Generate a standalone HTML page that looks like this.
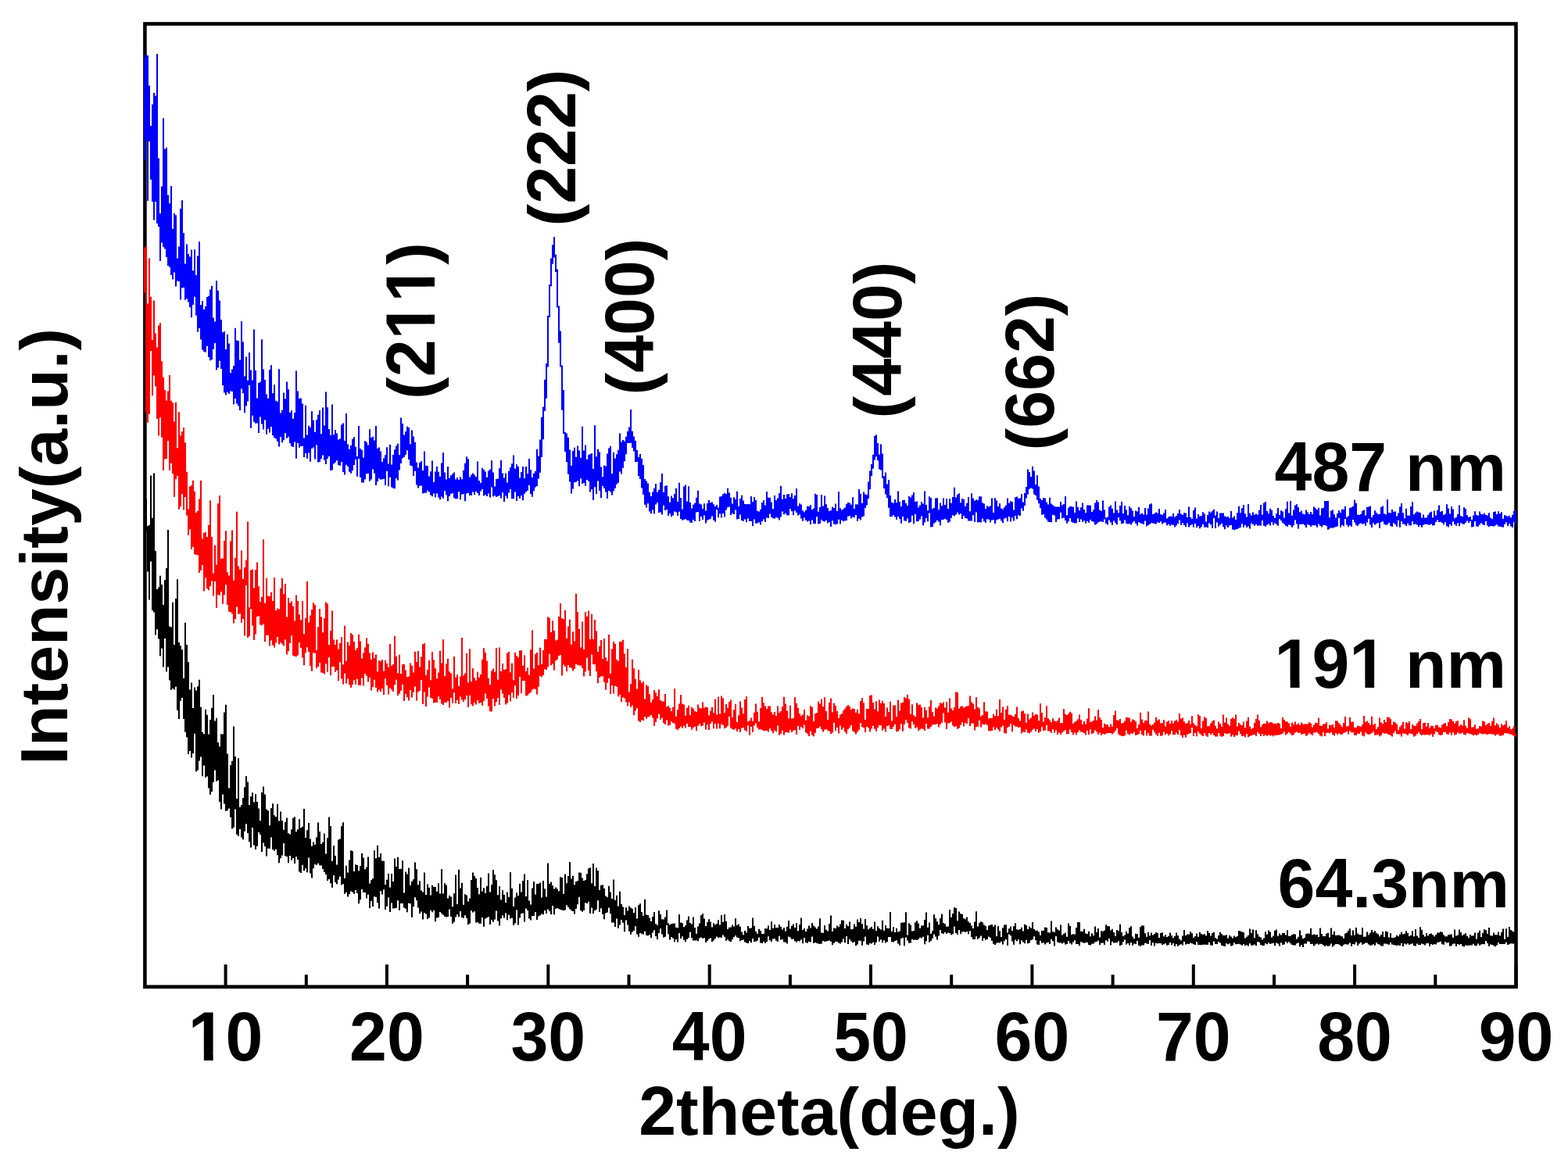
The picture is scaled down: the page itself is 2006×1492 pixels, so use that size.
<!DOCTYPE html>
<html><head><meta charset="utf-8"><title>XRD</title>
<style>html,body{margin:0;padding:0;background:#fff;width:2006px;height:1492px;overflow:hidden}svg{display:block}</style>
</head><body>
<svg xmlns="http://www.w3.org/2000/svg" width="2006" height="1492" viewBox="0 0 2006 1492">
<rect width="2006" height="1492" fill="#fff"/>
<g stroke="#000" stroke-width="4.0" fill="none"><line x1="288.6" y1="1262.7" x2="288.6" y2="1234.2"/><line x1="391.8" y1="1262.7" x2="391.8" y2="1247.2"/><line x1="494.9" y1="1262.7" x2="494.9" y2="1234.2"/><line x1="598.1" y1="1262.7" x2="598.1" y2="1247.2"/><line x1="701.3" y1="1262.7" x2="701.3" y2="1234.2"/><line x1="804.5" y1="1262.7" x2="804.5" y2="1247.2"/><line x1="907.7" y1="1262.7" x2="907.7" y2="1234.2"/><line x1="1010.9" y1="1262.7" x2="1010.9" y2="1247.2"/><line x1="1114.0" y1="1262.7" x2="1114.0" y2="1234.2"/><line x1="1217.2" y1="1262.7" x2="1217.2" y2="1247.2"/><line x1="1320.4" y1="1262.7" x2="1320.4" y2="1234.2"/><line x1="1423.6" y1="1262.7" x2="1423.6" y2="1247.2"/><line x1="1526.8" y1="1262.7" x2="1526.8" y2="1234.2"/><line x1="1630.0" y1="1262.7" x2="1630.0" y2="1247.2"/><line x1="1733.1" y1="1262.7" x2="1733.1" y2="1234.2"/><line x1="1836.3" y1="1262.7" x2="1836.3" y2="1247.2"/><line x1="1939.5" y1="1262.7" x2="1939.5" y2="1234.2"/></g>
<rect x="185.4" y="30.5" width="1754.1" height="1232.2" fill="none" stroke="#000" stroke-width="4.6"/>
<g><path d="M184 655.1h2V666.5h-2zM186 638.0h2V680.1h-2zM188 673.2h2V731.4h-2zM190 671.8h2V767.6h-2zM192 608.6h2V718.4h-2zM194 662.8h2V781.1h-2zM196 605.6h2V783.6h-2zM198 705.0h2V812.5h-2zM200 754.1h2V805.2h-2zM202 751.6h2V817.4h-2zM204 736.8h2V839.4h-2zM206 748.0h2V829.8h-2zM208 773.9h2V853.4h-2zM210 742.3h2V816.9h-2zM212 727.1h2V859.6h-2zM214 678.1h2V853.5h-2zM216 801.4h2V870.6h-2zM218 802.6h2V882.8h-2zM220 770.8h2V881.1h-2zM222 825.0h2V882.6h-2zM224 766.1h2V878.7h-2zM226 741.3h2V908.9h-2zM228 822.1h2V919.9h-2zM230 826.3h2V896.8h-2zM232 831.3h2V893.0h-2zM234 867.8h2V920.1h-2zM236 796.8h2V936.8h-2zM238 824.9h2V943.5h-2zM240 847.3h2V965.0h-2zM242 882.5h2V961.0h-2zM244 873.5h2V969.6h-2zM246 905.9h2V964.1h-2zM248 879.4h2V938.7h-2zM250 883.4h2V987.2h-2zM252 878.3h2V985.6h-2zM254 869.8h2V973.6h-2zM256 904.8h2V968.4h-2zM258 936.7h2V993.3h-2zM260 939.2h2V979.6h-2zM262 907.7h2V995.1h-2zM264 914.8h2V993.5h-2zM266 939.6h2V1008.4h-2zM268 921.1h2V1016.7h-2zM270 905.7h2V1013.1h-2zM272 889.1h2V1001.0h-2zM274 922.5h2V985.5h-2zM276 918.7h2V999.8h-2zM278 949.9h2V998.4h-2zM280 955.3h2V1026.1h-2zM282 939.2h2V1035.4h-2zM284 939.5h2V1016.6h-2zM286 911.4h2V1028.5h-2zM288 901.8h2V1037.7h-2zM290 964.6h2V1037.2h-2zM292 1008.4h2V1034.6h-2zM294 979.1h2V1045.7h-2zM296 973.8h2V1060.4h-2zM298 929.6h2V1058.8h-2zM300 967.9h2V1035.5h-2zM302 1022.1h2V1067.7h-2zM304 970.3h2V1070.1h-2zM306 1032.8h2V1060.9h-2zM308 1029.9h2V1071.6h-2zM310 1020.9h2V1074.2h-2zM312 1007.3h2V1063.7h-2zM314 993.1h2V1054.2h-2zM316 1000.4h2V1066.1h-2zM318 1030.1h2V1077.2h-2zM320 1019.3h2V1084.5h-2zM322 1014.3h2V1058.9h-2zM324 1026.5h2V1081.4h-2zM326 1016.1h2V1086.9h-2zM328 1026.1h2V1082.8h-2zM330 1034.6h2V1065.1h-2zM332 1050.3h2V1068.1h-2zM334 1014.1h2V1089.9h-2zM336 1006.4h2V1078.5h-2zM338 1016.5h2V1083.1h-2zM340 1035.5h2V1095.5h-2zM342 1037.2h2V1085.8h-2zM344 1056.2h2V1085.8h-2zM346 1034.1h2V1071.6h-2zM348 1028.3h2V1087.1h-2zM350 1043.2h2V1088.8h-2zM352 1045.2h2V1086.7h-2zM354 1028.8h2V1094.3h-2zM356 1050.6h2V1104.3h-2zM358 1038.4h2V1098.3h-2zM360 1049.9h2V1094.6h-2zM362 1061.8h2V1079.0h-2zM364 1051.7h2V1095.3h-2zM366 1046.4h2V1096.2h-2zM368 1066.2h2V1104.2h-2zM370 1067.6h2V1095.0h-2zM372 1061.3h2V1101.1h-2zM374 1046.8h2V1098.0h-2zM376 1045.3h2V1104.9h-2zM378 1064.2h2V1096.2h-2zM380 1061.2h2V1099.9h-2zM382 1048.3h2V1115.4h-2zM384 1059.2h2V1116.9h-2zM386 1057.7h2V1106.8h-2zM388 1034.9h2V1114.2h-2zM390 1071.9h2V1111.2h-2zM392 1062.2h2V1116.2h-2zM394 1052.9h2V1097.6h-2zM396 1073.6h2V1117.4h-2zM398 1082.8h2V1123.5h-2zM400 1077.5h2V1111.2h-2zM402 1080.8h2V1106.1h-2zM404 1071.6h2V1107.0h-2zM406 1052.6h2V1104.7h-2zM408 1064.0h2V1107.2h-2zM410 1080.0h2V1107.4h-2zM412 1077.8h2V1111.9h-2zM414 1066.6h2V1116.1h-2zM416 1092.5h2V1118.9h-2zM418 1072.2h2V1127.0h-2zM420 1045.4h2V1124.9h-2zM422 1056.9h2V1130.3h-2zM424 1101.8h2V1135.8h-2zM426 1081.9h2V1120.1h-2zM428 1095.0h2V1129.1h-2zM430 1106.4h2V1131.2h-2zM432 1074.4h2V1125.6h-2zM434 1073.5h2V1121.6h-2zM436 1057.3h2V1132.4h-2zM438 1052.3h2V1131.3h-2zM440 1123.7h2V1143.8h-2zM442 1107.7h2V1141.8h-2zM444 1116.6h2V1147.5h-2zM446 1100.5h2V1144.3h-2zM448 1088.2h2V1140.4h-2zM450 1089.0h2V1141.6h-2zM452 1114.9h2V1143.7h-2zM454 1106.2h2V1138.9h-2zM456 1107.1h2V1143.0h-2zM458 1114.2h2V1156.2h-2zM460 1108.1h2V1151.2h-2zM462 1092.0h2V1138.1h-2zM464 1097.6h2V1141.9h-2zM466 1112.3h2V1141.9h-2zM468 1109.5h2V1149.5h-2zM470 1096.6h2V1144.7h-2zM472 1130.5h2V1162.0h-2zM474 1126.3h2V1152.9h-2zM476 1124.2h2V1160.0h-2zM478 1088.2h2V1147.2h-2zM480 1098.2h2V1147.8h-2zM482 1081.8h2V1155.2h-2zM484 1096.8h2V1162.4h-2zM486 1092.0h2V1140.2h-2zM488 1101.4h2V1144.6h-2zM490 1101.7h2V1138.3h-2zM492 1132.0h2V1163.9h-2zM494 1125.7h2V1159.8h-2zM496 1117.8h2V1148.5h-2zM498 1135.4h2V1166.9h-2zM500 1118.0h2V1155.5h-2zM502 1128.0h2V1162.5h-2zM504 1098.6h2V1162.2h-2zM506 1109.0h2V1161.8h-2zM508 1096.8h2V1152.2h-2zM510 1111.9h2V1164.7h-2zM512 1111.7h2V1156.0h-2zM514 1101.3h2V1155.9h-2zM516 1142.4h2V1161.4h-2zM518 1115.6h2V1162.7h-2zM520 1118.4h2V1167.2h-2zM522 1110.6h2V1155.8h-2zM524 1132.8h2V1156.2h-2zM526 1127.8h2V1173.8h-2zM528 1125.3h2V1159.9h-2zM530 1103.4h2V1148.3h-2zM532 1112.3h2V1152.2h-2zM534 1132.3h2V1161.5h-2zM536 1127.2h2V1169.0h-2zM538 1139.4h2V1166.5h-2zM540 1141.4h2V1176.4h-2zM542 1116.4h2V1167.9h-2zM544 1145.0h2V1169.5h-2zM546 1131.5h2V1175.9h-2zM548 1135.8h2V1174.3h-2zM550 1145.5h2V1164.7h-2zM552 1132.7h2V1167.3h-2zM554 1134.7h2V1165.0h-2zM556 1135.1h2V1179.3h-2zM558 1140.7h2V1174.6h-2zM560 1130.2h2V1173.7h-2zM562 1143.4h2V1166.9h-2zM564 1112.1h2V1169.1h-2zM566 1143.6h2V1170.8h-2zM568 1130.2h2V1172.7h-2zM570 1132.4h2V1173.5h-2zM572 1149.4h2V1173.1h-2zM574 1145.7h2V1163.6h-2zM576 1147.6h2V1173.1h-2zM578 1160.2h2V1182.0h-2zM580 1143.3h2V1179.8h-2zM582 1119.5h2V1173.4h-2zM584 1156.9h2V1170.3h-2zM586 1112.7h2V1173.3h-2zM588 1136.6h2V1165.9h-2zM590 1129.7h2V1174.0h-2zM592 1157.8h2V1174.7h-2zM594 1144.3h2V1171.2h-2zM596 1145.4h2V1174.7h-2zM598 1153.4h2V1183.2h-2zM600 1149.4h2V1181.7h-2zM602 1126.1h2V1165.3h-2zM604 1116.4h2V1167.6h-2zM606 1120.9h2V1166.3h-2zM608 1123.9h2V1180.5h-2zM610 1136.0h2V1179.9h-2zM612 1144.2h2V1181.8h-2zM614 1122.8h2V1181.8h-2zM616 1140.4h2V1174.1h-2zM618 1136.3h2V1185.7h-2zM620 1142.9h2V1175.5h-2zM622 1133.7h2V1174.3h-2zM624 1117.4h2V1172.9h-2zM626 1141.4h2V1182.9h-2zM628 1132.1h2V1177.2h-2zM630 1113.1h2V1179.8h-2zM632 1119.3h2V1176.4h-2zM634 1126.3h2V1165.4h-2zM636 1145.2h2V1178.4h-2zM638 1133.9h2V1184.4h-2zM640 1151.2h2V1175.3h-2zM642 1139.1h2V1171.3h-2zM644 1145.0h2V1174.4h-2zM646 1155.1h2V1168.5h-2zM648 1141.5h2V1177.2h-2zM650 1147.7h2V1170.7h-2zM652 1115.9h2V1175.4h-2zM654 1136.7h2V1174.6h-2zM656 1159.9h2V1184.1h-2zM658 1148.6h2V1181.5h-2zM660 1142.3h2V1164.4h-2zM662 1146.2h2V1183.6h-2zM664 1130.7h2V1174.5h-2zM666 1141.4h2V1169.0h-2zM668 1127.0h2V1168.6h-2zM670 1118.6h2V1179.4h-2zM672 1147.1h2V1162.4h-2zM674 1125.9h2V1165.1h-2zM676 1152.5h2V1175.4h-2zM678 1157.5h2V1177.6h-2zM680 1136.5h2V1172.1h-2zM682 1128.1h2V1172.1h-2zM684 1144.6h2V1166.9h-2zM686 1130.9h2V1177.0h-2zM688 1131.0h2V1172.4h-2zM690 1129.4h2V1171.2h-2zM692 1148.4h2V1169.4h-2zM694 1126.9h2V1170.2h-2zM696 1137.3h2V1164.9h-2zM698 1147.4h2V1169.1h-2zM700 1104.6h2V1163.5h-2zM702 1131.0h2V1165.9h-2zM704 1128.6h2V1170.0h-2zM706 1133.1h2V1159.1h-2zM708 1137.4h2V1170.2h-2zM710 1135.6h2V1162.9h-2zM712 1137.4h2V1161.9h-2zM714 1140.3h2V1163.0h-2zM716 1122.2h2V1163.9h-2zM718 1123.1h2V1164.4h-2zM720 1143.7h2V1165.3h-2zM722 1118.4h2V1164.6h-2zM724 1130.3h2V1158.2h-2zM726 1120.9h2V1160.7h-2zM728 1103.0h2V1163.3h-2zM730 1124.5h2V1165.3h-2zM732 1120.8h2V1165.9h-2zM734 1132.3h2V1169.6h-2zM736 1128.1h2V1162.7h-2zM738 1127.2h2V1157.2h-2zM740 1116.6h2V1147.8h-2zM742 1116.8h2V1165.1h-2zM744 1123.5h2V1166.8h-2zM746 1126.9h2V1165.0h-2zM748 1125.9h2V1155.2h-2zM750 1118.3h2V1156.0h-2zM752 1111.3h2V1153.7h-2zM754 1110.3h2V1168.8h-2zM756 1130.3h2V1161.4h-2zM758 1105.0h2V1169.1h-2zM760 1133.9h2V1165.3h-2zM762 1110.4h2V1163.7h-2zM764 1114.0h2V1152.3h-2zM766 1139.0h2V1167.1h-2zM768 1132.8h2V1162.2h-2zM770 1132.3h2V1169.8h-2zM772 1136.7h2V1176.2h-2zM774 1146.6h2V1168.4h-2zM776 1148.1h2V1167.5h-2zM778 1133.7h2V1161.4h-2zM780 1141.6h2V1169.3h-2zM782 1150.0h2V1180.6h-2zM784 1125.5h2V1180.4h-2zM786 1151.8h2V1186.1h-2zM788 1145.7h2V1175.6h-2zM790 1159.4h2V1187.7h-2zM792 1140.8h2V1183.6h-2zM794 1156.8h2V1176.9h-2zM796 1160.4h2V1180.7h-2zM798 1171.1h2V1192.3h-2zM800 1161.3h2V1177.6h-2zM802 1165.4h2V1183.6h-2zM804 1159.6h2V1191.7h-2zM806 1161.6h2V1195.7h-2zM808 1162.7h2V1192.6h-2zM810 1167.9h2V1190.7h-2zM812 1161.0h2V1185.3h-2zM814 1175.6h2V1195.6h-2zM816 1158.3h2V1198.8h-2zM818 1156.2h2V1193.9h-2zM820 1166.9h2V1194.8h-2zM822 1171.8h2V1195.7h-2zM824 1150.7h2V1191.7h-2zM826 1170.6h2V1196.7h-2zM828 1171.1h2V1197.2h-2zM830 1174.5h2V1195.9h-2zM832 1179.1h2V1199.9h-2zM834 1173.0h2V1193.6h-2zM836 1166.9h2V1190.3h-2zM838 1182.0h2V1197.9h-2zM840 1184.0h2V1202.1h-2zM842 1165.2h2V1194.1h-2zM844 1170.1h2V1188.3h-2zM846 1176.2h2V1195.4h-2zM848 1176.4h2V1199.6h-2zM850 1173.4h2V1198.7h-2zM852 1164.4h2V1183.7h-2zM854 1181.4h2V1195.2h-2zM856 1183.3h2V1202.5h-2zM858 1181.9h2V1199.0h-2zM860 1181.8h2V1200.6h-2zM862 1181.5h2V1205.3h-2zM864 1186.8h2V1202.1h-2zM866 1187.3h2V1205.4h-2zM868 1170.1h2V1194.0h-2zM870 1180.6h2V1200.9h-2zM872 1181.3h2V1198.2h-2zM874 1186.3h2V1202.8h-2zM876 1184.3h2V1205.3h-2zM878 1177.4h2V1201.7h-2zM880 1172.4h2V1199.9h-2zM882 1180.9h2V1192.8h-2zM884 1182.5h2V1200.2h-2zM886 1173.5h2V1203.6h-2zM888 1187.1h2V1203.5h-2zM890 1194.7h2V1203.3h-2zM892 1185.5h2V1204.2h-2zM894 1181.5h2V1200.6h-2zM896 1171.1h2V1199.6h-2zM898 1168.9h2V1200.7h-2zM900 1175.4h2V1200.2h-2zM902 1185.0h2V1205.9h-2zM904 1180.0h2V1204.0h-2zM906 1176.3h2V1201.5h-2zM908 1179.5h2V1200.2h-2zM910 1186.6h2V1205.0h-2zM912 1181.2h2V1203.4h-2zM914 1183.2h2V1201.1h-2zM916 1182.1h2V1198.6h-2zM918 1177.3h2V1200.1h-2zM920 1183.6h2V1199.6h-2zM922 1171.1h2V1199.8h-2zM924 1179.7h2V1196.4h-2zM926 1170.0h2V1198.7h-2zM928 1178.8h2V1203.7h-2zM930 1189.0h2V1202.2h-2zM932 1186.7h2V1204.2h-2zM934 1186.6h2V1205.2h-2zM936 1183.4h2V1202.0h-2zM938 1185.6h2V1199.0h-2zM940 1175.0h2V1197.3h-2zM942 1183.7h2V1199.4h-2zM944 1182.6h2V1200.0h-2zM946 1185.7h2V1204.3h-2zM948 1192.6h2V1203.1h-2zM950 1196.2h2V1202.5h-2zM952 1191.1h2V1205.5h-2zM954 1193.3h2V1206.5h-2zM956 1184.9h2V1207.0h-2zM958 1187.7h2V1204.2h-2zM960 1187.6h2V1206.2h-2zM962 1174.6h2V1201.0h-2zM964 1184.7h2V1205.1h-2zM966 1191.7h2V1204.8h-2zM968 1194.7h2V1203.6h-2zM970 1188.7h2V1199.6h-2zM972 1191.0h2V1206.6h-2zM974 1195.1h2V1207.1h-2zM976 1194.9h2V1204.7h-2zM978 1187.9h2V1206.8h-2zM980 1188.3h2V1205.3h-2zM982 1184.5h2V1198.3h-2zM984 1190.1h2V1203.3h-2zM986 1179.3h2V1205.0h-2zM988 1187.7h2V1201.5h-2zM990 1183.1h2V1200.9h-2zM992 1187.3h2V1203.8h-2zM994 1187.1h2V1205.1h-2zM996 1182.9h2V1197.7h-2zM998 1185.7h2V1202.5h-2zM1000 1189.5h2V1202.0h-2zM1002 1187.3h2V1205.6h-2zM1004 1191.7h2V1205.8h-2zM1006 1185.7h2V1207.5h-2zM1008 1178.0h2V1198.4h-2zM1010 1188.5h2V1199.4h-2zM1012 1184.8h2V1201.8h-2zM1014 1182.6h2V1201.5h-2zM1016 1187.1h2V1204.2h-2zM1018 1181.2h2V1205.8h-2zM1020 1191.2h2V1204.1h-2zM1022 1183.3h2V1204.5h-2zM1024 1174.5h2V1202.3h-2zM1026 1190.1h2V1207.2h-2zM1028 1187.7h2V1200.1h-2zM1030 1191.9h2V1206.1h-2zM1032 1188.6h2V1206.8h-2zM1034 1184.5h2V1204.8h-2zM1036 1187.5h2V1205.5h-2zM1038 1181.0h2V1198.6h-2zM1040 1184.4h2V1207.1h-2zM1042 1186.5h2V1206.1h-2zM1044 1188.5h2V1206.8h-2zM1046 1185.5h2V1207.6h-2zM1048 1175.3h2V1207.9h-2zM1050 1193.4h2V1207.5h-2zM1052 1193.7h2V1204.1h-2zM1054 1183.9h2V1204.9h-2zM1056 1189.7h2V1204.4h-2zM1058 1191.5h2V1203.9h-2zM1060 1181.9h2V1203.6h-2zM1062 1171.5h2V1204.8h-2zM1064 1191.8h2V1209.2h-2zM1066 1187.5h2V1206.7h-2zM1068 1187.9h2V1204.9h-2zM1070 1184.4h2V1204.9h-2zM1072 1186.2h2V1206.4h-2zM1074 1182.5h2V1207.6h-2zM1076 1177.5h2V1205.6h-2zM1078 1177.8h2V1201.3h-2zM1080 1187.9h2V1206.3h-2zM1082 1182.7h2V1197.9h-2zM1084 1185.1h2V1208.1h-2zM1086 1179.6h2V1201.7h-2zM1088 1189.2h2V1204.5h-2zM1090 1188.8h2V1206.3h-2zM1092 1182.5h2V1205.3h-2zM1094 1185.7h2V1210.1h-2zM1096 1176.5h2V1208.5h-2zM1098 1180.1h2V1203.8h-2zM1100 1174.8h2V1203.7h-2zM1102 1182.2h2V1209.7h-2zM1104 1188.5h2V1204.4h-2zM1106 1176.1h2V1198.5h-2zM1108 1184.3h2V1208.6h-2zM1110 1189.3h2V1209.3h-2zM1112 1187.4h2V1206.9h-2zM1114 1185.8h2V1207.4h-2zM1116 1188.8h2V1205.7h-2zM1118 1179.5h2V1209.1h-2zM1120 1191.1h2V1205.8h-2zM1122 1185.3h2V1198.4h-2zM1124 1188.1h2V1204.8h-2zM1126 1189.4h2V1202.2h-2zM1128 1177.8h2V1206.2h-2zM1130 1190.8h2V1203.3h-2zM1132 1183.9h2V1206.4h-2zM1134 1187.8h2V1205.3h-2zM1136 1188.1h2V1198.9h-2zM1138 1166.9h2V1199.1h-2zM1140 1191.8h2V1205.3h-2zM1142 1186.3h2V1205.5h-2zM1144 1193.0h2V1204.1h-2zM1146 1187.8h2V1203.2h-2zM1148 1192.5h2V1207.6h-2zM1150 1191.5h2V1209.7h-2zM1152 1180.8h2V1200.7h-2zM1154 1180.4h2V1200.0h-2zM1156 1180.3h2V1210.3h-2zM1158 1167.3h2V1199.4h-2zM1160 1196.5h2V1203.6h-2zM1162 1181.2h2V1206.8h-2zM1164 1183.4h2V1206.6h-2zM1166 1191.4h2V1201.7h-2zM1168 1191.0h2V1202.8h-2zM1170 1180.2h2V1202.5h-2zM1172 1178.2h2V1203.0h-2zM1174 1181.5h2V1201.8h-2zM1176 1187.8h2V1199.8h-2zM1178 1184.5h2V1200.6h-2zM1180 1184.3h2V1198.8h-2zM1182 1177.1h2V1208.3h-2zM1184 1167.6h2V1204.3h-2zM1186 1186.8h2V1196.7h-2zM1188 1180.5h2V1205.7h-2zM1190 1194.8h2V1204.1h-2zM1192 1191.3h2V1200.8h-2zM1194 1170.3h2V1195.4h-2zM1196 1174.9h2V1198.4h-2zM1198 1179.2h2V1202.5h-2zM1200 1183.3h2V1197.6h-2zM1202 1175.1h2V1189.9h-2zM1204 1169.4h2V1194.2h-2zM1206 1181.0h2V1194.9h-2zM1208 1182.3h2V1193.0h-2zM1210 1185.8h2V1194.9h-2zM1212 1185.5h2V1193.6h-2zM1214 1164.0h2V1194.1h-2zM1216 1173.7h2V1196.3h-2zM1218 1169.1h2V1195.3h-2zM1220 1160.9h2V1185.5h-2zM1222 1162.0h2V1194.1h-2zM1224 1178.3h2V1195.9h-2zM1226 1166.4h2V1190.0h-2zM1228 1169.3h2V1195.3h-2zM1230 1169.7h2V1192.5h-2zM1232 1175.1h2V1192.0h-2zM1234 1176.3h2V1193.0h-2zM1236 1173.4h2V1192.0h-2zM1238 1179.2h2V1195.3h-2zM1240 1181.1h2V1191.3h-2zM1242 1184.6h2V1198.9h-2zM1244 1188.0h2V1201.9h-2zM1246 1179.4h2V1202.0h-2zM1248 1166.3h2V1198.3h-2zM1250 1185.5h2V1201.8h-2zM1252 1180.7h2V1199.9h-2zM1254 1179.2h2V1197.4h-2zM1256 1180.2h2V1204.1h-2zM1258 1183.5h2V1200.6h-2zM1260 1184.7h2V1202.7h-2zM1262 1189.9h2V1201.8h-2zM1264 1184.6h2V1198.6h-2zM1266 1183.5h2V1199.9h-2zM1268 1183.0h2V1203.8h-2zM1270 1185.7h2V1207.7h-2zM1272 1183.6h2V1208.9h-2zM1274 1198.0h2V1207.1h-2zM1276 1184.9h2V1206.1h-2zM1278 1191.3h2V1206.4h-2zM1280 1198.9h2V1204.7h-2zM1282 1187.3h2V1208.4h-2zM1284 1183.6h2V1204.1h-2zM1286 1183.2h2V1202.0h-2zM1288 1193.5h2V1209.7h-2zM1290 1188.3h2V1195.5h-2zM1292 1185.4h2V1197.3h-2zM1294 1191.1h2V1204.6h-2zM1296 1185.3h2V1208.7h-2zM1298 1181.2h2V1202.5h-2zM1300 1189.2h2V1204.3h-2zM1302 1189.7h2V1201.9h-2zM1304 1188.9h2V1208.2h-2zM1306 1186.8h2V1203.2h-2zM1308 1191.5h2V1205.6h-2zM1310 1182.7h2V1207.3h-2zM1312 1183.9h2V1202.7h-2zM1314 1189.1h2V1207.2h-2zM1316 1185.6h2V1206.5h-2zM1318 1187.5h2V1203.0h-2zM1320 1179.9h2V1202.3h-2zM1322 1188.7h2V1198.2h-2zM1324 1190.7h2V1203.0h-2zM1326 1190.7h2V1208.6h-2zM1328 1192.5h2V1209.0h-2zM1330 1196.7h2V1203.7h-2zM1332 1191.0h2V1206.8h-2zM1334 1190.8h2V1206.1h-2zM1336 1186.5h2V1208.5h-2zM1338 1186.9h2V1206.4h-2zM1340 1193.3h2V1205.8h-2zM1342 1193.6h2V1208.0h-2zM1344 1178.4h2V1201.8h-2zM1346 1192.1h2V1204.2h-2zM1348 1193.0h2V1210.5h-2zM1350 1186.5h2V1198.0h-2zM1352 1189.2h2V1205.4h-2zM1354 1190.4h2V1206.5h-2zM1356 1183.4h2V1206.2h-2zM1358 1196.4h2V1207.5h-2zM1360 1194.7h2V1205.9h-2zM1362 1193.5h2V1208.5h-2zM1364 1198.8h2V1207.9h-2zM1366 1181.4h2V1203.9h-2zM1368 1184.8h2V1206.9h-2zM1370 1196.0h2V1208.6h-2zM1372 1195.3h2V1205.5h-2zM1374 1195.7h2V1203.3h-2zM1376 1187.0h2V1208.0h-2zM1378 1180.0h2V1207.9h-2zM1380 1180.1h2V1210.3h-2zM1382 1191.8h2V1205.3h-2zM1384 1191.9h2V1206.1h-2zM1386 1188.8h2V1206.7h-2zM1388 1194.5h2V1206.0h-2zM1390 1195.0h2V1206.1h-2zM1392 1191.8h2V1208.9h-2zM1394 1198.2h2V1209.5h-2zM1396 1194.2h2V1207.8h-2zM1398 1197.2h2V1207.5h-2zM1400 1185.5h2V1205.6h-2zM1402 1192.7h2V1205.1h-2zM1404 1188.1h2V1203.5h-2zM1406 1199.5h2V1209.3h-2zM1408 1191.3h2V1206.7h-2zM1410 1191.8h2V1206.5h-2zM1412 1190.5h2V1208.9h-2zM1414 1183.3h2V1203.2h-2zM1416 1185.1h2V1204.8h-2zM1418 1185.3h2V1200.9h-2zM1420 1190.5h2V1209.4h-2zM1422 1188.7h2V1204.8h-2zM1424 1193.0h2V1206.5h-2zM1426 1197.7h2V1206.2h-2zM1428 1189.9h2V1206.1h-2zM1430 1191.3h2V1204.2h-2zM1432 1182.8h2V1210.0h-2zM1434 1193.0h2V1209.0h-2zM1436 1198.1h2V1205.3h-2zM1438 1196.5h2V1202.6h-2zM1440 1191.8h2V1208.4h-2zM1442 1194.6h2V1207.0h-2zM1444 1187.3h2V1209.6h-2zM1446 1185.3h2V1206.0h-2zM1448 1198.5h2V1209.8h-2zM1450 1201.2h2V1207.4h-2zM1452 1194.8h2V1207.9h-2zM1454 1195.2h2V1204.1h-2zM1456 1199.8h2V1209.7h-2zM1458 1186.2h2V1210.9h-2zM1460 1184.2h2V1209.4h-2zM1462 1184.4h2V1209.4h-2zM1464 1194.3h2V1206.8h-2zM1466 1198.8h2V1207.3h-2zM1468 1192.8h2V1208.1h-2zM1470 1197.3h2V1203.1h-2zM1472 1193.5h2V1210.0h-2zM1474 1196.4h2V1206.2h-2zM1476 1194.9h2V1210.5h-2zM1478 1193.1h2V1206.7h-2zM1480 1194.1h2V1207.2h-2zM1482 1199.9h2V1207.1h-2zM1484 1193.9h2V1206.9h-2zM1486 1193.2h2V1208.9h-2zM1488 1198.2h2V1208.2h-2zM1490 1196.1h2V1207.3h-2zM1492 1199.0h2V1209.8h-2zM1494 1197.8h2V1209.1h-2zM1496 1193.6h2V1205.9h-2zM1498 1197.1h2V1209.2h-2zM1500 1200.2h2V1207.1h-2zM1502 1198.0h2V1210.8h-2zM1504 1193.6h2V1208.0h-2zM1506 1197.1h2V1210.7h-2zM1508 1201.6h2V1209.1h-2zM1510 1203.2h2V1208.3h-2zM1512 1197.5h2V1209.5h-2zM1514 1190.0h2V1204.9h-2zM1516 1197.0h2V1208.4h-2zM1518 1195.5h2V1207.8h-2zM1520 1195.8h2V1208.1h-2zM1522 1192.1h2V1206.5h-2zM1524 1194.3h2V1207.3h-2zM1526 1199.9h2V1208.3h-2zM1528 1197.9h2V1209.1h-2zM1530 1194.5h2V1205.2h-2zM1532 1198.7h2V1209.0h-2zM1534 1192.8h2V1209.0h-2zM1536 1195.2h2V1209.3h-2zM1538 1195.8h2V1208.7h-2zM1540 1195.0h2V1208.7h-2zM1542 1197.2h2V1208.8h-2zM1544 1191.1h2V1209.1h-2zM1546 1193.8h2V1205.7h-2zM1548 1197.6h2V1209.4h-2zM1550 1194.0h2V1209.7h-2zM1552 1192.7h2V1204.4h-2zM1554 1200.2h2V1207.9h-2zM1556 1201.5h2V1207.9h-2zM1558 1197.1h2V1205.1h-2zM1560 1192.8h2V1206.4h-2zM1562 1195.1h2V1209.7h-2zM1564 1197.0h2V1210.6h-2zM1566 1197.0h2V1210.9h-2zM1568 1196.2h2V1206.9h-2zM1570 1200.5h2V1208.3h-2zM1572 1196.8h2V1207.2h-2zM1574 1198.4h2V1210.6h-2zM1576 1200.6h2V1209.8h-2zM1578 1197.4h2V1206.2h-2zM1580 1198.9h2V1208.3h-2zM1582 1197.8h2V1208.1h-2zM1584 1191.0h2V1207.8h-2zM1586 1191.4h2V1208.6h-2zM1588 1192.5h2V1209.7h-2zM1590 1192.9h2V1207.9h-2zM1592 1200.6h2V1210.2h-2zM1594 1198.8h2V1209.3h-2zM1596 1196.8h2V1210.4h-2zM1598 1188.5h2V1207.2h-2zM1600 1194.0h2V1209.7h-2zM1602 1189.6h2V1209.5h-2zM1604 1200.3h2V1208.5h-2zM1606 1190.2h2V1210.1h-2zM1608 1195.3h2V1205.1h-2zM1610 1198.5h2V1205.8h-2zM1612 1199.5h2V1209.0h-2zM1614 1202.6h2V1210.1h-2zM1616 1200.5h2V1210.1h-2zM1618 1192.3h2V1207.1h-2zM1620 1195.8h2V1208.3h-2zM1622 1190.6h2V1206.2h-2zM1624 1192.5h2V1207.9h-2zM1626 1199.4h2V1207.3h-2zM1628 1197.5h2V1206.7h-2zM1630 1190.8h2V1210.0h-2zM1632 1189.4h2V1206.5h-2zM1634 1197.7h2V1207.5h-2zM1636 1194.4h2V1210.5h-2zM1638 1196.5h2V1206.2h-2zM1640 1193.9h2V1209.0h-2zM1642 1193.7h2V1208.5h-2zM1644 1196.5h2V1205.0h-2zM1646 1190.3h2V1207.1h-2zM1648 1197.7h2V1205.2h-2zM1650 1197.7h2V1207.3h-2zM1652 1196.0h2V1208.9h-2zM1654 1195.2h2V1209.6h-2zM1656 1195.4h2V1209.5h-2zM1658 1201.6h2V1207.3h-2zM1660 1198.8h2V1206.6h-2zM1662 1190.4h2V1211.3h-2zM1664 1196.7h2V1209.2h-2zM1666 1200.9h2V1211.9h-2zM1668 1200.0h2V1207.6h-2zM1670 1194.9h2V1207.6h-2zM1672 1194.6h2V1204.4h-2zM1674 1194.8h2V1205.1h-2zM1676 1187.7h2V1208.0h-2zM1678 1196.3h2V1207.8h-2zM1680 1195.5h2V1210.6h-2zM1682 1196.3h2V1208.5h-2zM1684 1195.9h2V1207.6h-2zM1686 1199.0h2V1208.7h-2zM1688 1187.6h2V1207.7h-2zM1690 1195.0h2V1207.9h-2zM1692 1197.9h2V1209.5h-2zM1694 1198.0h2V1210.8h-2zM1696 1194.7h2V1209.8h-2zM1698 1193.7h2V1210.8h-2zM1700 1199.4h2V1210.3h-2zM1702 1187.4h2V1207.4h-2zM1704 1195.9h2V1211.4h-2zM1706 1191.7h2V1209.4h-2zM1708 1197.0h2V1208.0h-2zM1710 1196.7h2V1207.9h-2zM1712 1196.5h2V1208.6h-2zM1714 1197.6h2V1210.1h-2zM1716 1198.3h2V1211.1h-2zM1718 1200.8h2V1209.0h-2zM1720 1194.5h2V1208.1h-2zM1722 1193.4h2V1208.4h-2zM1724 1190.8h2V1208.6h-2zM1726 1188.3h2V1206.6h-2zM1728 1197.0h2V1211.0h-2zM1730 1190.6h2V1208.0h-2zM1732 1196.4h2V1208.4h-2zM1734 1187.1h2V1205.5h-2zM1736 1194.6h2V1209.9h-2zM1738 1195.9h2V1207.6h-2zM1740 1196.2h2V1206.0h-2zM1742 1187.0h2V1208.8h-2zM1744 1198.8h2V1207.8h-2zM1746 1198.4h2V1206.4h-2zM1748 1192.6h2V1206.6h-2zM1750 1196.2h2V1208.5h-2zM1752 1193.4h2V1209.7h-2zM1754 1189.9h2V1209.4h-2zM1756 1193.1h2V1208.2h-2zM1758 1191.2h2V1209.8h-2zM1760 1193.7h2V1206.3h-2zM1762 1195.2h2V1207.9h-2zM1764 1198.3h2V1208.8h-2zM1766 1196.0h2V1210.6h-2zM1768 1192.1h2V1210.5h-2zM1770 1199.0h2V1207.6h-2zM1772 1191.6h2V1207.6h-2zM1774 1192.4h2V1208.2h-2zM1776 1199.4h2V1208.7h-2zM1778 1194.0h2V1206.0h-2zM1780 1200.1h2V1208.4h-2zM1782 1199.9h2V1208.9h-2zM1784 1199.3h2V1209.5h-2zM1786 1196.8h2V1209.9h-2zM1788 1198.3h2V1209.6h-2zM1790 1195.6h2V1209.9h-2zM1792 1192.4h2V1207.1h-2zM1794 1195.6h2V1211.0h-2zM1796 1194.7h2V1207.6h-2zM1798 1191.2h2V1208.5h-2zM1800 1193.7h2V1207.3h-2zM1802 1197.9h2V1209.0h-2zM1804 1196.8h2V1208.1h-2zM1806 1191.3h2V1207.3h-2zM1808 1198.3h2V1210.3h-2zM1810 1188.9h2V1210.5h-2zM1812 1197.5h2V1207.5h-2zM1814 1200.0h2V1208.9h-2zM1816 1186.3h2V1209.0h-2zM1818 1189.7h2V1207.4h-2zM1820 1196.0h2V1208.3h-2zM1822 1198.4h2V1209.4h-2zM1824 1193.9h2V1207.3h-2zM1826 1197.3h2V1206.8h-2zM1828 1195.1h2V1210.8h-2zM1830 1194.4h2V1207.9h-2zM1832 1196.2h2V1208.9h-2zM1834 1198.3h2V1207.9h-2zM1836 1196.3h2V1208.5h-2zM1838 1193.5h2V1206.1h-2zM1840 1193.6h2V1205.4h-2zM1842 1192.2h2V1204.7h-2zM1844 1192.7h2V1208.3h-2zM1846 1196.3h2V1208.7h-2zM1848 1198.3h2V1205.0h-2zM1850 1198.3h2V1206.5h-2zM1852 1196.3h2V1205.9h-2zM1854 1195.7h2V1210.8h-2zM1856 1195.5h2V1210.0h-2zM1858 1199.7h2V1207.7h-2zM1860 1189.5h2V1207.5h-2zM1862 1197.4h2V1210.9h-2zM1864 1196.5h2V1208.0h-2zM1866 1189.4h2V1208.9h-2zM1868 1193.1h2V1208.0h-2zM1870 1196.9h2V1210.5h-2zM1872 1195.4h2V1211.3h-2zM1874 1194.3h2V1209.5h-2zM1876 1197.7h2V1209.9h-2zM1878 1200.0h2V1209.8h-2zM1880 1196.1h2V1209.5h-2zM1882 1197.5h2V1209.5h-2zM1884 1197.3h2V1207.8h-2zM1886 1193.6h2V1210.0h-2zM1888 1201.5h2V1210.2h-2zM1890 1193.4h2V1207.5h-2zM1892 1190.8h2V1209.8h-2zM1894 1199.1h2V1208.4h-2zM1896 1193.8h2V1208.0h-2zM1898 1189.1h2V1208.3h-2zM1900 1190.2h2V1204.0h-2zM1902 1194.8h2V1207.0h-2zM1904 1186.9h2V1210.7h-2zM1906 1197.1h2V1208.6h-2zM1908 1197.5h2V1209.1h-2zM1910 1193.6h2V1210.1h-2zM1912 1196.2h2V1211.2h-2zM1914 1196.2h2V1209.4h-2zM1916 1192.6h2V1206.0h-2zM1918 1197.3h2V1208.0h-2zM1920 1192.8h2V1207.9h-2zM1922 1188.6h2V1207.9h-2zM1924 1201.8h2V1208.1h-2zM1926 1188.2h2V1205.8h-2zM1928 1198.8h2V1209.0h-2zM1930 1186.1h2V1208.3h-2zM1932 1189.9h2V1207.2h-2zM1934 1191.6h2V1207.4h-2zM1936 1192.4h2V1207.5h-2zM1938 1194.4h2V1198.7h-2z" fill="#000"/><path d="M184 316.7h2V374.6h-2zM186 315.0h2V527.9h-2zM188 388.5h2V540.7h-2zM190 330.5h2V529.7h-2zM192 379.7h2V449.0h-2zM194 434.7h2V506.2h-2zM196 384.5h2V480.4h-2zM198 426.6h2V494.2h-2zM200 444.4h2V536.1h-2zM202 416.5h2V557.5h-2zM204 413.3h2V534.2h-2zM206 462.2h2V559.7h-2zM208 482.7h2V601.9h-2zM210 499.1h2V587.6h-2zM212 512.6h2V587.0h-2zM214 500.4h2V564.3h-2zM216 480.1h2V602.0h-2zM218 512.7h2V592.8h-2zM220 515.3h2V606.3h-2zM222 539.6h2V635.8h-2zM224 514.8h2V613.3h-2zM226 573.3h2V609.0h-2zM228 527.2h2V651.8h-2zM230 557.6h2V648.3h-2zM232 552.2h2V632.3h-2zM234 546.9h2V652.4h-2zM236 566.2h2V636.2h-2zM238 603.7h2V659.6h-2zM240 651.6h2V685.1h-2zM242 622.5h2V677.4h-2zM244 621.0h2V703.1h-2zM246 614.8h2V699.8h-2zM248 628.8h2V709.2h-2zM250 655.9h2V710.1h-2zM252 653.7h2V710.3h-2zM254 638.5h2V733.0h-2zM256 614.7h2V730.0h-2zM258 689.5h2V723.1h-2zM260 681.7h2V756.5h-2zM262 680.7h2V739.3h-2zM264 686.9h2V753.3h-2zM266 671.7h2V755.3h-2zM268 640.2h2V749.9h-2zM270 687.1h2V743.6h-2zM272 733.6h2V762.6h-2zM274 697.8h2V744.1h-2zM276 722.4h2V777.7h-2zM278 644.2h2V761.1h-2zM280 633.9h2V762.1h-2zM282 715.1h2V757.3h-2zM284 714.5h2V772.8h-2zM286 692.0h2V761.2h-2zM288 679.2h2V748.3h-2zM290 732.3h2V773.9h-2zM292 736.4h2V782.7h-2zM294 692.6h2V782.9h-2zM296 678.4h2V785.4h-2zM298 742.7h2V797.4h-2zM300 713.7h2V792.3h-2zM302 654.8h2V776.4h-2zM304 724.4h2V786.1h-2zM306 728.5h2V785.3h-2zM308 704.5h2V796.9h-2zM310 740.7h2V792.0h-2zM312 726.0h2V813.6h-2zM314 716.6h2V749.2h-2zM316 667.5h2V816.1h-2zM318 777.3h2V814.1h-2zM320 729.4h2V779.3h-2zM322 728.4h2V800.6h-2zM324 752.3h2V818.9h-2zM326 729.3h2V811.5h-2zM328 719.4h2V789.0h-2zM330 750.2h2V788.3h-2zM332 770.1h2V799.5h-2zM334 763.8h2V800.2h-2zM336 690.3h2V798.4h-2zM338 771.8h2V821.3h-2zM340 739.7h2V812.7h-2zM342 762.5h2V813.1h-2zM344 763.2h2V826.6h-2zM346 757.7h2V819.6h-2zM348 769.1h2V825.6h-2zM350 738.9h2V828.4h-2zM352 780.9h2V822.6h-2zM354 778.5h2V814.9h-2zM356 779.5h2V824.6h-2zM358 752.7h2V822.1h-2zM360 739.8h2V824.2h-2zM362 759.9h2V826.4h-2zM364 746.9h2V818.6h-2zM366 789.6h2V837.4h-2zM368 765.0h2V833.3h-2zM370 771.5h2V823.1h-2zM372 769.3h2V813.2h-2zM374 775.8h2V839.1h-2zM376 794.4h2V839.7h-2zM378 761.4h2V840.3h-2zM380 769.0h2V838.6h-2zM382 786.5h2V822.2h-2zM384 793.4h2V829.2h-2zM386 769.0h2V841.5h-2zM388 811.2h2V851.2h-2zM390 790.7h2V835.5h-2zM392 744.1h2V828.3h-2zM394 796.6h2V833.9h-2zM396 787.4h2V852.3h-2zM398 780.1h2V858.8h-2zM400 770.9h2V835.3h-2zM402 773.8h2V836.0h-2zM404 832.0h2V855.2h-2zM406 802.2h2V853.1h-2zM408 778.9h2V847.9h-2zM410 789.2h2V860.4h-2zM412 809.2h2V861.2h-2zM414 790.9h2V862.5h-2zM416 770.5h2V849.6h-2zM418 772.6h2V859.7h-2zM420 825.3h2V841.3h-2zM422 807.0h2V864.2h-2zM424 781.4h2V853.2h-2zM426 818.6h2V852.9h-2zM428 824.9h2V859.9h-2zM430 818.4h2V857.8h-2zM432 830.5h2V871.3h-2zM434 823.1h2V847.3h-2zM436 814.9h2V868.5h-2zM438 850.2h2V875.5h-2zM440 800.8h2V861.8h-2zM442 845.8h2V874.4h-2zM444 821.6h2V868.4h-2zM446 825.9h2V876.2h-2zM448 810.3h2V879.9h-2zM450 811.9h2V876.3h-2zM452 821.1h2V870.3h-2zM454 832.1h2V876.0h-2zM456 828.9h2V868.7h-2zM458 811.8h2V876.9h-2zM460 820.5h2V876.9h-2zM462 842.6h2V867.6h-2zM464 835.5h2V877.6h-2zM466 828.6h2V862.3h-2zM468 816.2h2V864.8h-2zM470 823.7h2V872.6h-2zM472 835.4h2V867.1h-2zM474 844.0h2V883.4h-2zM476 834.5h2V879.0h-2zM478 842.0h2V869.8h-2zM480 837.6h2V879.9h-2zM482 859.4h2V885.5h-2zM484 845.3h2V882.8h-2zM486 846.2h2V885.3h-2zM488 844.1h2V881.1h-2zM490 858.7h2V888.9h-2zM492 844.8h2V868.5h-2zM494 849.0h2V876.8h-2zM496 853.8h2V888.4h-2zM498 823.9h2V880.4h-2zM500 852.1h2V882.6h-2zM502 849.9h2V884.9h-2zM504 813.7h2V876.3h-2zM506 839.7h2V869.8h-2zM508 861.2h2V889.9h-2zM510 837.8h2V887.4h-2zM512 862.1h2V883.7h-2zM514 850.0h2V875.7h-2zM516 850.0h2V897.0h-2zM518 857.4h2V888.1h-2zM520 866.2h2V892.3h-2zM522 865.6h2V896.4h-2zM524 848.6h2V883.1h-2zM526 851.7h2V892.5h-2zM528 860.6h2V885.8h-2zM530 833.8h2V878.6h-2zM532 847.0h2V896.4h-2zM534 832.9h2V885.6h-2zM536 853.4h2V884.1h-2zM538 840.4h2V869.9h-2zM540 824.3h2V901.0h-2zM542 823.1h2V885.5h-2zM544 863.7h2V903.9h-2zM546 857.1h2V891.6h-2zM548 845.1h2V879.6h-2zM550 870.3h2V892.7h-2zM552 834.3h2V894.1h-2zM554 844.3h2V899.6h-2zM556 855.2h2V898.8h-2zM558 868.2h2V898.9h-2zM560 860.6h2V890.9h-2zM562 832.7h2V895.1h-2zM564 848.6h2V900.5h-2zM566 818.3h2V901.9h-2zM568 865.3h2V899.1h-2zM570 849.5h2V899.1h-2zM572 842.7h2V897.0h-2zM574 859.2h2V905.6h-2zM576 861.6h2V893.0h-2zM578 881.5h2V899.8h-2zM580 839.9h2V886.2h-2zM582 867.0h2V899.9h-2zM584 863.2h2V895.8h-2zM586 877.9h2V901.0h-2zM588 865.4h2V891.5h-2zM590 815.9h2V895.5h-2zM592 864.4h2V898.2h-2zM594 861.6h2V895.3h-2zM596 835.8h2V890.1h-2zM598 873.4h2V904.9h-2zM600 830.2h2V889.7h-2zM602 872.0h2V901.2h-2zM604 855.2h2V903.5h-2zM606 867.2h2V898.7h-2zM608 870.8h2V901.5h-2zM610 859.7h2V895.9h-2zM612 866.7h2V899.9h-2zM614 863.1h2V899.1h-2zM616 843.7h2V902.8h-2zM618 829.2h2V897.1h-2zM620 834.9h2V887.6h-2zM622 845.8h2V894.1h-2zM624 867.8h2V903.8h-2zM626 876.1h2V910.2h-2zM628 858.5h2V910.6h-2zM630 855.4h2V893.9h-2zM632 859.7h2V903.4h-2zM634 829.1h2V898.3h-2zM636 869.8h2V892.9h-2zM638 828.4h2V901.9h-2zM640 859.1h2V882.5h-2zM642 849.0h2V887.4h-2zM644 857.1h2V892.9h-2zM646 856.2h2V901.6h-2zM648 835.4h2V899.7h-2zM650 833.9h2V889.2h-2zM652 860.3h2V897.5h-2zM654 848.8h2V886.2h-2zM656 870.3h2V893.0h-2zM658 834.9h2V877.2h-2zM660 839.2h2V894.0h-2zM662 841.5h2V890.1h-2zM664 832.4h2V866.3h-2zM666 832.1h2V887.2h-2zM668 851.8h2V871.2h-2zM670 838.6h2V870.9h-2zM672 859.0h2V890.4h-2zM674 854.4h2V889.8h-2zM676 863.6h2V887.4h-2zM678 831.3h2V886.1h-2zM680 806.4h2V882.4h-2zM682 855.4h2V881.2h-2zM684 837.1h2V881.9h-2zM686 835.0h2V888.4h-2zM688 851.0h2V878.8h-2zM690 828.7h2V865.1h-2zM692 850.1h2V866.5h-2zM694 831.9h2V863.9h-2zM696 818.1h2V856.3h-2zM698 818.1h2V857.2h-2zM700 789.2h2V853.5h-2zM702 791.0h2V836.7h-2zM704 809.1h2V851.2h-2zM706 794.2h2V849.6h-2zM708 807.1h2V857.8h-2zM710 819.4h2V845.5h-2zM712 818.4h2V843.8h-2zM714 789.1h2V839.3h-2zM716 771.9h2V837.9h-2zM718 791.2h2V864.6h-2zM720 792.3h2V850.5h-2zM722 780.7h2V853.1h-2zM724 816.8h2V859.2h-2zM726 801.5h2V851.0h-2zM728 792.7h2V853.9h-2zM730 824.7h2V854.9h-2zM732 808.3h2V858.4h-2zM734 820.5h2V856.0h-2zM736 759.7h2V849.7h-2zM738 783.1h2V850.8h-2zM740 804.8h2V851.5h-2zM742 828.4h2V851.7h-2zM744 795.5h2V854.9h-2zM746 831.0h2V865.5h-2zM748 783.1h2V859.4h-2zM750 788.7h2V841.8h-2zM752 781.5h2V857.9h-2zM754 817.9h2V864.9h-2zM756 785.7h2V837.6h-2zM758 817.8h2V850.1h-2zM760 793.1h2V850.3h-2zM762 807.6h2V859.3h-2zM764 833.9h2V874.2h-2zM766 826.8h2V867.1h-2zM768 819.1h2V865.6h-2zM770 843.0h2V865.3h-2zM772 816.9h2V872.8h-2zM774 841.2h2V882.7h-2zM776 846.0h2V873.7h-2zM778 811.9h2V868.0h-2zM780 861.9h2V888.1h-2zM782 830.4h2V876.9h-2zM784 821.1h2V887.6h-2zM786 823.8h2V877.7h-2zM788 844.1h2V878.8h-2zM790 845.7h2V891.3h-2zM792 820.9h2V889.0h-2zM794 821.2h2V898.2h-2zM796 818.7h2V892.5h-2zM798 836.5h2V893.5h-2zM800 853.7h2V898.4h-2zM802 830.2h2V903.5h-2zM804 885.5h2V898.4h-2zM806 875.3h2V904.9h-2zM808 843.8h2V902.4h-2zM810 855.2h2V914.9h-2zM812 868.8h2V909.6h-2zM814 881.6h2V906.3h-2zM816 857.1h2V922.4h-2zM818 870.5h2V924.0h-2zM820 874.0h2V921.2h-2zM822 871.9h2V922.3h-2zM824 894.6h2V917.2h-2zM826 876.0h2V919.8h-2zM828 877.9h2V917.6h-2zM830 888.2h2V916.9h-2zM832 898.7h2V915.0h-2zM834 894.9h2V918.4h-2zM836 882.9h2V928.8h-2zM838 886.2h2V923.9h-2zM840 890.7h2V919.5h-2zM842 882.3h2V913.8h-2zM844 896.0h2V921.1h-2zM846 897.2h2V918.4h-2zM848 897.6h2V925.2h-2zM850 888.1h2V926.9h-2zM852 904.4h2V921.4h-2zM854 903.0h2V928.6h-2zM856 905.8h2V928.0h-2zM858 909.9h2V923.3h-2zM860 904.7h2V925.0h-2zM862 881.0h2V926.1h-2zM864 916.7h2V932.8h-2zM866 908.1h2V934.3h-2zM868 900.6h2V932.0h-2zM870 889.0h2V929.8h-2zM872 900.6h2V931.9h-2zM874 901.6h2V928.8h-2zM876 915.7h2V931.4h-2zM878 905.8h2V926.1h-2zM880 902.7h2V929.9h-2zM882 914.9h2V930.0h-2zM884 904.9h2V933.8h-2zM886 906.8h2V931.1h-2zM888 910.0h2V929.7h-2zM890 910.9h2V935.3h-2zM892 901.5h2V928.7h-2zM894 905.7h2V926.0h-2zM896 906.6h2V929.3h-2zM898 898.4h2V928.5h-2zM900 905.8h2V924.6h-2zM902 904.5h2V933.5h-2zM904 905.3h2V927.3h-2zM906 915.3h2V933.9h-2zM908 909.6h2V926.2h-2zM910 905.1h2V923.2h-2zM912 911.9h2V932.3h-2zM914 894.7h2V926.3h-2zM916 914.4h2V932.6h-2zM918 891.5h2V925.8h-2zM920 913.6h2V932.3h-2zM922 890.4h2V926.6h-2zM924 893.4h2V927.7h-2zM926 912.1h2V932.3h-2zM928 901.0h2V931.0h-2zM930 906.0h2V929.0h-2zM932 898.0h2V916.9h-2zM934 895.4h2V931.6h-2zM936 917.7h2V933.3h-2zM938 908.2h2V933.7h-2zM940 900.7h2V932.3h-2zM942 924.0h2V935.9h-2zM944 915.3h2V933.1h-2zM946 897.6h2V937.1h-2zM948 905.4h2V931.8h-2zM950 913.2h2V930.9h-2zM952 895.0h2V934.4h-2zM954 891.1h2V936.0h-2zM956 923.3h2V928.3h-2zM958 922.1h2V940.8h-2zM960 918.4h2V929.9h-2zM962 922.7h2V936.7h-2zM964 911.8h2V928.5h-2zM966 900.6h2V925.5h-2zM968 910.7h2V931.3h-2zM970 923.2h2V933.6h-2zM972 906.0h2V933.3h-2zM974 891.7h2V934.0h-2zM976 899.2h2V935.3h-2zM978 903.4h2V934.9h-2zM980 907.1h2V935.1h-2zM982 903.5h2V936.4h-2zM984 903.5h2V932.3h-2zM986 911.2h2V935.0h-2zM988 914.2h2V938.2h-2zM990 910.9h2V934.4h-2zM992 916.1h2V936.2h-2zM994 903.6h2V928.4h-2zM996 911.9h2V940.7h-2zM998 909.9h2V939.0h-2zM1000 904.2h2V934.8h-2zM1002 891.7h2V940.6h-2zM1004 900.6h2V937.1h-2zM1006 909.6h2V937.1h-2zM1008 919.2h2V937.8h-2zM1010 902.8h2V933.7h-2zM1012 919.5h2V936.8h-2zM1014 918.9h2V934.8h-2zM1016 892.2h2V934.2h-2zM1018 900.0h2V940.0h-2zM1020 905.7h2V929.1h-2zM1022 913.2h2V933.9h-2zM1024 916.1h2V930.2h-2zM1026 914.5h2V932.0h-2zM1028 908.1h2V927.6h-2zM1030 921.8h2V937.5h-2zM1032 915.3h2V938.8h-2zM1034 916.5h2V942.1h-2zM1036 903.1h2V935.6h-2zM1038 904.7h2V940.7h-2zM1040 923.1h2V942.3h-2zM1042 913.1h2V937.7h-2zM1044 912.2h2V931.9h-2zM1046 897.4h2V931.8h-2zM1048 900.5h2V929.8h-2zM1050 894.6h2V933.3h-2zM1052 904.1h2V936.5h-2zM1054 892.2h2V933.7h-2zM1056 909.9h2V933.1h-2zM1058 921.1h2V934.8h-2zM1060 898.9h2V935.7h-2zM1062 893.6h2V939.0h-2zM1064 911.3h2V937.4h-2zM1066 899.8h2V924.7h-2zM1068 903.0h2V935.2h-2zM1070 910.0h2V930.9h-2zM1072 919.1h2V938.4h-2zM1074 914.4h2V928.4h-2zM1076 913.3h2V933.8h-2zM1078 909.3h2V931.1h-2zM1080 906.7h2V936.6h-2zM1082 904.0h2V938.9h-2zM1084 902.3h2V933.2h-2zM1086 904.1h2V931.3h-2zM1088 907.8h2V928.1h-2zM1090 906.4h2V935.4h-2zM1092 907.0h2V936.8h-2zM1094 911.7h2V939.5h-2zM1096 907.8h2V936.5h-2zM1098 913.3h2V934.0h-2zM1100 897.0h2V925.1h-2zM1102 893.2h2V930.3h-2zM1104 899.3h2V931.3h-2zM1106 921.0h2V937.0h-2zM1108 907.0h2V930.1h-2zM1110 907.1h2V931.5h-2zM1112 889.9h2V936.3h-2zM1114 889.6h2V932.5h-2zM1116 899.0h2V928.8h-2zM1118 907.5h2V932.7h-2zM1120 897.3h2V935.7h-2zM1122 910.3h2V931.2h-2zM1124 895.4h2V927.9h-2zM1126 899.7h2V928.3h-2zM1128 896.8h2V934.7h-2zM1130 900.0h2V932.4h-2zM1132 916.7h2V936.6h-2zM1134 905.5h2V929.0h-2zM1136 910.9h2V928.2h-2zM1138 897.8h2V932.8h-2zM1140 922.4h2V933.0h-2zM1142 902.5h2V930.0h-2zM1144 902.5h2V926.8h-2zM1146 917.0h2V936.3h-2zM1148 895.6h2V935.8h-2zM1150 909.5h2V933.3h-2zM1152 899.5h2V926.2h-2zM1154 898.8h2V935.8h-2zM1156 892.0h2V927.1h-2zM1158 893.5h2V921.3h-2zM1160 888.8h2V925.1h-2zM1162 894.5h2V931.5h-2zM1164 913.8h2V932.5h-2zM1166 901.2h2V923.2h-2zM1168 914.9h2V927.0h-2zM1170 917.2h2V931.7h-2zM1172 899.4h2V930.6h-2zM1174 902.0h2V935.2h-2zM1176 901.4h2V933.4h-2zM1178 904.9h2V931.9h-2zM1180 918.6h2V933.1h-2zM1182 904.7h2V934.9h-2zM1184 908.7h2V926.0h-2zM1186 918.4h2V932.6h-2zM1188 904.1h2V932.4h-2zM1190 896.0h2V929.9h-2zM1192 910.9h2V927.6h-2zM1194 916.4h2V927.0h-2zM1196 905.4h2V927.3h-2zM1198 906.6h2V926.2h-2zM1200 903.6h2V930.5h-2zM1202 899.0h2V926.7h-2zM1204 900.2h2V924.8h-2zM1206 898.5h2V912.4h-2zM1208 905.4h2V924.6h-2zM1210 898.1h2V932.9h-2zM1212 911.8h2V925.6h-2zM1214 893.5h2V925.3h-2zM1216 906.4h2V923.6h-2zM1218 908.9h2V928.5h-2zM1220 905.0h2V930.2h-2zM1222 885.5h2V929.3h-2zM1224 885.9h2V932.8h-2zM1226 906.6h2V931.7h-2zM1228 903.9h2V927.8h-2zM1230 903.6h2V924.3h-2zM1232 905.5h2V929.4h-2zM1234 904.4h2V924.9h-2zM1236 903.5h2V925.9h-2zM1238 902.9h2V919.1h-2zM1240 890.5h2V928.9h-2zM1242 898.5h2V925.6h-2zM1244 900.6h2V925.8h-2zM1246 907.5h2V934.4h-2zM1248 892.0h2V930.2h-2zM1250 904.8h2V929.7h-2zM1252 906.5h2V921.7h-2zM1254 916.5h2V930.5h-2zM1256 915.1h2V926.4h-2zM1258 898.5h2V927.4h-2zM1260 910.3h2V926.2h-2zM1262 910.5h2V928.0h-2zM1264 919.5h2V935.2h-2zM1266 918.8h2V935.4h-2zM1268 918.9h2V935.0h-2zM1270 913.6h2V930.4h-2zM1272 915.9h2V934.1h-2zM1274 907.7h2V931.3h-2zM1276 916.3h2V933.6h-2zM1278 894.9h2V936.1h-2zM1280 912.1h2V930.5h-2zM1282 904.6h2V928.4h-2zM1284 920.7h2V938.2h-2zM1286 907.7h2V938.5h-2zM1288 903.3h2V931.2h-2zM1290 914.7h2V929.8h-2zM1292 914.6h2V926.2h-2zM1294 916.2h2V936.3h-2zM1296 917.3h2V927.7h-2zM1298 913.7h2V929.7h-2zM1300 904.5h2V929.7h-2zM1302 919.1h2V931.0h-2zM1304 922.4h2V930.4h-2zM1306 910.2h2V938.4h-2zM1308 909.5h2V936.4h-2zM1310 913.0h2V937.1h-2zM1312 924.7h2V933.4h-2zM1314 913.4h2V937.8h-2zM1316 920.4h2V938.3h-2zM1318 918.6h2V936.6h-2zM1320 911.6h2V934.0h-2zM1322 915.7h2V932.2h-2zM1324 913.8h2V936.0h-2zM1326 914.5h2V933.0h-2zM1328 922.3h2V937.7h-2zM1330 900.2h2V936.1h-2zM1332 912.0h2V930.3h-2zM1334 923.5h2V935.3h-2zM1336 918.0h2V934.4h-2zM1338 903.3h2V927.8h-2zM1340 919.3h2V935.5h-2zM1342 921.4h2V935.7h-2zM1344 924.3h2V937.7h-2zM1346 919.3h2V933.3h-2zM1348 922.3h2V937.7h-2zM1350 923.6h2V934.4h-2zM1352 921.9h2V940.1h-2zM1354 918.4h2V937.4h-2zM1356 925.2h2V940.3h-2zM1358 924.9h2V937.5h-2zM1360 907.3h2V935.6h-2zM1362 913.7h2V934.2h-2zM1364 914.9h2V939.6h-2zM1366 913.3h2V939.1h-2zM1368 910.7h2V933.4h-2zM1370 912.6h2V937.0h-2zM1372 925.9h2V940.3h-2zM1374 923.7h2V937.6h-2zM1376 922.4h2V940.6h-2zM1378 920.3h2V937.0h-2zM1380 914.5h2V934.6h-2zM1382 921.1h2V936.5h-2zM1384 927.1h2V937.0h-2zM1386 923.1h2V937.9h-2zM1388 926.4h2V940.6h-2zM1390 919.6h2V934.9h-2zM1392 906.2h2V940.1h-2zM1394 923.9h2V933.3h-2zM1396 923.3h2V939.1h-2zM1398 921.8h2V937.9h-2zM1400 916.4h2V934.5h-2zM1402 921.6h2V936.5h-2zM1404 908.2h2V939.8h-2zM1406 917.9h2V937.5h-2zM1408 920.9h2V940.9h-2zM1410 930.9h2V938.9h-2zM1412 925.8h2V939.7h-2zM1414 927.2h2V938.7h-2zM1416 926.9h2V937.9h-2zM1418 930.2h2V937.9h-2zM1420 926.6h2V937.9h-2zM1422 929.7h2V939.5h-2zM1424 914.9h2V937.8h-2zM1426 909.4h2V935.0h-2zM1428 921.6h2V932.0h-2zM1430 921.7h2V939.4h-2zM1432 919.9h2V941.1h-2zM1434 925.4h2V941.7h-2zM1436 925.1h2V942.1h-2zM1438 922.4h2V941.3h-2zM1440 917.8h2V934.7h-2zM1442 917.9h2V939.2h-2zM1444 918.7h2V940.6h-2zM1446 923.7h2V938.5h-2zM1448 920.4h2V938.9h-2zM1450 921.3h2V936.7h-2zM1452 923.3h2V941.1h-2zM1454 932.1h2V940.2h-2zM1456 927.1h2V939.2h-2zM1458 911.7h2V934.8h-2zM1460 920.6h2V939.9h-2zM1462 925.1h2V941.5h-2zM1464 922.1h2V934.5h-2zM1466 922.0h2V941.3h-2zM1468 910.5h2V937.7h-2zM1470 926.6h2V941.4h-2zM1472 928.5h2V941.5h-2zM1474 927.0h2V933.8h-2zM1476 924.5h2V936.8h-2zM1478 917.8h2V939.7h-2zM1480 922.1h2V941.8h-2zM1482 920.4h2V937.7h-2zM1484 925.5h2V941.7h-2zM1486 925.1h2V941.3h-2zM1488 921.3h2V936.5h-2zM1490 929.6h2V940.2h-2zM1492 923.4h2V938.7h-2zM1494 922.1h2V941.3h-2zM1496 926.0h2V939.6h-2zM1498 921.9h2V935.2h-2zM1500 925.6h2V940.3h-2zM1502 922.6h2V940.1h-2zM1504 921.1h2V937.4h-2zM1506 923.6h2V940.0h-2zM1508 912.8h2V934.1h-2zM1510 919.6h2V941.0h-2zM1512 918.6h2V944.0h-2zM1514 923.3h2V940.4h-2zM1516 926.0h2V943.5h-2zM1518 925.3h2V939.8h-2zM1520 921.9h2V939.1h-2zM1522 926.6h2V938.0h-2zM1524 916.2h2V930.9h-2zM1526 925.2h2V942.1h-2zM1528 927.7h2V938.0h-2zM1530 929.3h2V942.3h-2zM1532 914.1h2V935.9h-2zM1534 916.0h2V938.7h-2zM1536 931.9h2V940.5h-2zM1538 922.6h2V941.9h-2zM1540 917.3h2V938.1h-2zM1542 919.0h2V941.5h-2zM1544 929.2h2V942.7h-2zM1546 929.1h2V938.1h-2zM1548 925.4h2V940.0h-2zM1550 922.7h2V938.2h-2zM1552 921.6h2V940.8h-2zM1554 928.8h2V942.4h-2zM1556 932.2h2V942.5h-2zM1558 923.4h2V938.0h-2zM1560 926.1h2V941.5h-2zM1562 929.8h2V942.7h-2zM1564 914.4h2V942.1h-2zM1566 924.6h2V938.3h-2zM1568 918.5h2V939.1h-2zM1570 926.4h2V939.1h-2zM1572 928.7h2V938.0h-2zM1574 919.7h2V942.6h-2zM1576 918.3h2V940.4h-2zM1578 919.9h2V942.9h-2zM1580 914.5h2V940.9h-2zM1582 929.6h2V940.9h-2zM1584 924.9h2V935.6h-2zM1586 927.0h2V939.3h-2zM1588 928.1h2V942.0h-2zM1590 923.6h2V941.5h-2zM1592 931.2h2V943.3h-2zM1594 922.6h2V939.2h-2zM1596 917.8h2V943.3h-2zM1598 929.6h2V942.0h-2zM1600 932.7h2V941.3h-2zM1602 931.6h2V940.2h-2zM1604 925.1h2V940.0h-2zM1606 920.0h2V941.7h-2zM1608 914.5h2V936.8h-2zM1610 921.8h2V939.1h-2zM1612 930.2h2V942.1h-2zM1614 927.3h2V938.9h-2zM1616 925.8h2V941.8h-2zM1618 926.1h2V939.9h-2zM1620 922.6h2V941.8h-2zM1622 925.2h2V940.0h-2zM1624 924.3h2V941.4h-2zM1626 924.0h2V940.7h-2zM1628 925.8h2V942.3h-2zM1630 926.1h2V940.7h-2zM1632 926.0h2V940.9h-2zM1634 925.0h2V940.6h-2zM1636 926.1h2V940.2h-2zM1638 932.1h2V939.4h-2zM1640 918.1h2V938.8h-2zM1642 921.1h2V936.2h-2zM1644 923.3h2V940.4h-2zM1646 923.6h2V938.7h-2zM1648 925.4h2V936.9h-2zM1650 929.8h2V939.1h-2zM1652 924.7h2V941.0h-2zM1654 927.3h2V940.2h-2zM1656 923.6h2V937.4h-2zM1658 927.2h2V936.5h-2zM1660 925.4h2V938.1h-2zM1662 927.7h2V937.6h-2zM1664 924.5h2V939.9h-2zM1666 926.6h2V939.1h-2zM1668 926.4h2V938.7h-2zM1670 926.5h2V941.8h-2zM1672 926.5h2V940.6h-2zM1674 924.1h2V937.8h-2zM1676 925.5h2V939.6h-2zM1678 930.6h2V941.1h-2zM1680 927.6h2V937.6h-2zM1682 924.8h2V937.3h-2zM1684 925.2h2V936.9h-2zM1686 918.4h2V939.0h-2zM1688 928.6h2V941.5h-2zM1690 928.7h2V942.2h-2zM1692 926.5h2V937.1h-2zM1694 926.2h2V942.1h-2zM1696 924.3h2V937.9h-2zM1698 932.4h2V937.5h-2zM1700 927.4h2V938.5h-2zM1702 928.1h2V937.0h-2zM1704 927.0h2V940.1h-2zM1706 930.8h2V941.4h-2zM1708 922.2h2V938.1h-2zM1710 922.5h2V940.2h-2zM1712 925.2h2V938.4h-2zM1714 927.6h2V939.8h-2zM1716 930.0h2V939.8h-2zM1718 925.0h2V938.0h-2zM1720 917.1h2V937.2h-2zM1722 929.5h2V936.1h-2zM1724 928.7h2V939.4h-2zM1726 917.9h2V935.4h-2zM1728 923.7h2V937.3h-2zM1730 923.5h2V937.2h-2zM1732 931.1h2V940.7h-2zM1734 930.9h2V941.0h-2zM1736 928.5h2V938.6h-2zM1738 929.3h2V939.0h-2zM1740 929.7h2V936.5h-2zM1742 926.7h2V941.2h-2zM1744 915.9h2V942.3h-2zM1746 924.1h2V937.2h-2zM1748 922.5h2V939.3h-2zM1750 925.0h2V939.9h-2zM1752 927.6h2V939.2h-2zM1754 916.7h2V938.1h-2zM1756 927.6h2V936.3h-2zM1758 926.0h2V940.7h-2zM1760 933.0h2V940.4h-2zM1762 930.2h2V939.8h-2zM1764 918.5h2V942.2h-2zM1766 924.6h2V941.0h-2zM1768 926.2h2V937.7h-2zM1770 920.9h2V938.8h-2zM1772 924.1h2V938.3h-2zM1774 917.5h2V939.3h-2zM1776 917.7h2V940.1h-2zM1778 920.1h2V941.0h-2zM1780 927.6h2V942.4h-2zM1782 923.6h2V938.3h-2zM1784 924.5h2V935.6h-2zM1786 926.6h2V939.2h-2zM1788 934.2h2V939.5h-2zM1790 930.2h2V939.5h-2zM1792 927.8h2V942.5h-2zM1794 923.8h2V938.4h-2zM1796 932.4h2V938.8h-2zM1798 924.2h2V939.6h-2zM1800 925.6h2V941.1h-2zM1802 922.9h2V938.6h-2zM1804 933.0h2V938.8h-2zM1806 926.9h2V939.5h-2zM1808 928.5h2V942.5h-2zM1810 929.0h2V941.4h-2zM1812 925.6h2V939.0h-2zM1814 922.9h2V936.7h-2zM1816 920.1h2V939.5h-2zM1818 932.9h2V940.9h-2zM1820 925.2h2V939.7h-2zM1822 924.7h2V940.6h-2zM1824 929.7h2V940.2h-2zM1826 925.0h2V940.0h-2zM1828 931.6h2V940.9h-2zM1830 928.7h2V939.2h-2zM1832 928.7h2V942.7h-2zM1834 931.8h2V939.5h-2zM1836 927.8h2V936.1h-2zM1838 927.8h2V936.7h-2zM1840 930.4h2V940.3h-2zM1842 931.3h2V941.1h-2zM1844 927.6h2V940.3h-2zM1846 926.1h2V937.0h-2zM1848 925.1h2V936.8h-2zM1850 929.2h2V939.5h-2zM1852 924.0h2V939.8h-2zM1854 919.9h2V937.2h-2zM1856 920.6h2V940.7h-2zM1858 923.0h2V937.3h-2zM1860 925.7h2V940.4h-2zM1862 923.0h2V939.8h-2zM1864 922.2h2V937.1h-2zM1866 929.3h2V939.1h-2zM1868 927.2h2V938.4h-2zM1870 928.5h2V937.4h-2zM1872 921.2h2V940.1h-2zM1874 928.6h2V940.4h-2zM1876 931.6h2V938.0h-2zM1878 918.2h2V938.4h-2zM1880 920.3h2V939.2h-2zM1882 930.7h2V939.8h-2zM1884 930.2h2V941.3h-2zM1886 927.2h2V940.0h-2zM1888 932.8h2V940.9h-2zM1890 932.3h2V940.1h-2zM1892 929.1h2V937.9h-2zM1894 929.5h2V938.7h-2zM1896 922.5h2V939.4h-2zM1898 923.3h2V938.7h-2zM1900 928.1h2V939.5h-2zM1902 926.1h2V940.0h-2zM1904 925.1h2V939.1h-2zM1906 928.8h2V938.9h-2zM1908 922.7h2V939.8h-2zM1910 918.5h2V939.6h-2zM1912 928.2h2V941.6h-2zM1914 925.6h2V940.0h-2zM1916 927.4h2V939.5h-2zM1918 931.3h2V941.8h-2zM1920 925.9h2V941.2h-2zM1922 928.2h2V940.8h-2zM1924 926.9h2V938.2h-2zM1926 922.3h2V938.2h-2zM1928 931.2h2V938.4h-2zM1930 929.2h2V939.3h-2zM1932 933.2h2V939.8h-2zM1934 931.9h2V940.8h-2zM1936 929.2h2V941.4h-2zM1938 938.4h2V942.4h-2z" fill="#f00"/><path d="M184 73.0h2V204.9h-2zM186 69.0h2V179.1h-2zM188 71.1h2V257.0h-2zM190 109.6h2V181.1h-2zM192 160.9h2V229.7h-2zM194 133.4h2V258.3h-2zM196 118.8h2V281.5h-2zM198 122.5h2V258.2h-2zM200 69.0h2V286.1h-2zM202 202.5h2V290.3h-2zM204 273.3h2V333.9h-2zM206 238.4h2V310.4h-2zM208 151.3h2V316.0h-2zM210 190.5h2V318.5h-2zM212 188.7h2V328.9h-2zM214 249.4h2V340.0h-2zM216 260.2h2V341.9h-2zM218 237.9h2V352.0h-2zM220 292.8h2V357.5h-2zM222 272.8h2V348.5h-2zM224 275.2h2V366.6h-2zM226 330.4h2V359.5h-2zM228 315.4h2V360.3h-2zM230 267.0h2V383.4h-2zM232 256.3h2V368.4h-2zM234 298.1h2V367.9h-2zM236 337.4h2V383.8h-2zM238 312.6h2V382.2h-2zM240 325.1h2V386.4h-2zM242 328.5h2V393.2h-2zM244 319.6h2V406.3h-2zM246 346.2h2V390.0h-2zM248 319.2h2V379.8h-2zM250 351.9h2V403.7h-2zM252 327.4h2V424.7h-2zM254 309.2h2V419.9h-2zM256 390.2h2V434.5h-2zM258 385.1h2V447.5h-2zM260 396.0h2V449.9h-2zM262 392.1h2V450.7h-2zM264 379.9h2V442.7h-2zM266 378.8h2V457.0h-2zM268 370.4h2V461.3h-2zM270 365.7h2V460.3h-2zM272 406.5h2V446.8h-2zM274 411.4h2V439.0h-2zM276 359.2h2V473.4h-2zM278 371.7h2V470.6h-2zM280 384.4h2V461.7h-2zM282 409.3h2V472.0h-2zM284 425.2h2V493.1h-2zM286 424.3h2V502.4h-2zM288 447.1h2V505.5h-2zM290 427.7h2V501.8h-2zM292 439.4h2V503.9h-2zM294 477.3h2V500.6h-2zM296 472.6h2V501.1h-2zM298 468.1h2V517.6h-2zM300 419.8h2V510.0h-2zM302 435.5h2V516.5h-2zM304 436.0h2V519.5h-2zM306 460.6h2V524.9h-2zM308 411.1h2V497.5h-2zM310 437.5h2V503.2h-2zM312 481.4h2V528.2h-2zM314 456.5h2V519.6h-2zM316 486.8h2V513.6h-2zM318 451.0h2V493.1h-2zM320 473.4h2V547.8h-2zM322 486.5h2V531.7h-2zM324 421.6h2V539.7h-2zM326 473.9h2V541.7h-2zM328 509.6h2V541.6h-2zM330 490.1h2V554.1h-2zM332 488.6h2V533.5h-2zM334 434.3h2V542.5h-2zM336 472.6h2V549.6h-2zM338 486.0h2V537.6h-2zM340 504.6h2V555.7h-2zM342 509.7h2V548.7h-2zM344 473.0h2V553.5h-2zM346 467.2h2V546.0h-2zM348 503.2h2V557.3h-2zM350 492.2h2V560.2h-2zM352 512.7h2V561.5h-2zM354 513.9h2V565.0h-2zM356 472.2h2V571.6h-2zM358 528.6h2V559.0h-2zM360 524.7h2V566.3h-2zM362 502.5h2V563.3h-2zM364 510.2h2V554.3h-2zM366 488.4h2V560.8h-2zM368 498.3h2V558.7h-2zM370 527.8h2V567.3h-2zM372 525.3h2V570.9h-2zM374 535.8h2V571.9h-2zM376 527.9h2V565.4h-2zM378 474.5h2V586.8h-2zM380 500.5h2V566.9h-2zM382 509.9h2V572.8h-2zM384 509.4h2V570.9h-2zM386 516.6h2V570.8h-2zM388 560.4h2V585.0h-2zM390 518.8h2V580.1h-2zM392 556.4h2V586.7h-2zM394 544.7h2V579.6h-2zM396 547.1h2V590.8h-2zM398 526.3h2V573.9h-2zM400 537.7h2V572.4h-2zM402 552.8h2V587.4h-2zM404 537.2h2V569.6h-2zM406 530.7h2V591.4h-2zM408 524.9h2V591.1h-2zM410 555.3h2V587.2h-2zM412 521.4h2V582.5h-2zM414 544.4h2V588.7h-2zM416 501.5h2V594.0h-2zM418 521.3h2V587.0h-2zM420 549.1h2V584.1h-2zM422 557.1h2V602.0h-2zM424 517.5h2V601.4h-2zM426 556.2h2V593.4h-2zM428 550.0h2V591.7h-2zM430 554.6h2V589.3h-2zM432 562.5h2V595.3h-2zM434 561.5h2V595.8h-2zM436 543.6h2V591.1h-2zM438 541.6h2V604.0h-2zM440 563.9h2V607.5h-2zM442 529.0h2V594.8h-2zM444 568.6h2V597.1h-2zM446 575.1h2V603.8h-2zM448 569.9h2V605.8h-2zM450 561.7h2V602.2h-2zM452 559.2h2V595.1h-2zM454 571.8h2V588.1h-2zM456 583.9h2V609.7h-2zM458 545.0h2V587.0h-2zM460 574.0h2V610.8h-2zM462 575.8h2V617.4h-2zM464 585.6h2V617.5h-2zM466 564.3h2V613.5h-2zM468 565.8h2V606.2h-2zM470 569.5h2V605.9h-2zM472 549.3h2V615.7h-2zM474 559.9h2V613.4h-2zM476 558.7h2V600.4h-2zM478 563.5h2V605.7h-2zM480 544.9h2V621.1h-2zM482 574.1h2V616.3h-2zM484 572.4h2V612.3h-2zM486 577.4h2V613.7h-2zM488 590.9h2V613.2h-2zM490 586.4h2V612.7h-2zM492 582.3h2V620.7h-2zM494 572.2h2V602.7h-2zM496 593.4h2V622.3h-2zM498 569.0h2V610.8h-2zM500 594.6h2V623.4h-2zM502 582.1h2V624.8h-2zM504 575.3h2V625.3h-2zM506 570.4h2V612.0h-2zM508 567.7h2V614.6h-2zM510 582.1h2V601.6h-2zM512 534.4h2V593.1h-2zM514 541.9h2V586.4h-2zM516 556.6h2V584.8h-2zM518 552.3h2V581.9h-2zM520 545.8h2V576.3h-2zM522 546.9h2V587.9h-2zM524 568.2h2V595.6h-2zM526 550.4h2V596.6h-2zM528 558.6h2V609.1h-2zM530 565.8h2V602.7h-2zM532 591.5h2V620.4h-2zM534 598.4h2V624.6h-2zM536 592.1h2V621.7h-2zM538 590.1h2V621.5h-2zM540 601.9h2V631.6h-2zM542 577.6h2V630.7h-2zM544 595.8h2V630.8h-2zM546 596.3h2V627.8h-2zM548 609.4h2V629.4h-2zM550 603.3h2V633.6h-2zM552 589.5h2V635.2h-2zM554 617.0h2V631.5h-2zM556 603.4h2V636.6h-2zM558 596.9h2V631.4h-2zM560 603.8h2V636.6h-2zM562 609.7h2V639.2h-2zM564 592.4h2V635.6h-2zM566 579.2h2V637.8h-2zM568 604.5h2V628.2h-2zM570 613.4h2V633.6h-2zM572 597.1h2V641.3h-2zM574 611.8h2V634.9h-2zM576 608.3h2V632.0h-2zM578 606.5h2V630.9h-2zM580 604.4h2V637.3h-2zM582 613.4h2V638.3h-2zM584 611.3h2V638.3h-2zM586 613.7h2V629.2h-2zM588 609.9h2V639.2h-2zM590 613.3h2V632.8h-2zM592 601.7h2V632.0h-2zM594 592.7h2V641.3h-2zM596 584.3h2V631.6h-2zM598 587.3h2V630.7h-2zM600 610.6h2V634.1h-2zM602 607.4h2V634.1h-2zM604 605.4h2V629.5h-2zM606 607.5h2V633.1h-2zM608 610.1h2V629.1h-2zM610 590.4h2V630.9h-2zM612 615.1h2V634.1h-2zM614 618.0h2V628.6h-2zM616 598.7h2V626.1h-2zM618 600.8h2V634.4h-2zM620 603.6h2V633.0h-2zM622 610.7h2V634.9h-2zM624 602.5h2V631.6h-2zM626 600.6h2V636.4h-2zM628 589.2h2V623.5h-2zM630 604.5h2V635.3h-2zM632 622.5h2V634.3h-2zM634 613.0h2V636.0h-2zM636 612.6h2V634.9h-2zM638 599.3h2V633.9h-2zM640 589.0h2V637.4h-2zM642 605.6h2V630.3h-2zM644 611.6h2V642.1h-2zM646 605.6h2V634.6h-2zM648 617.5h2V637.8h-2zM650 602.8h2V630.6h-2zM652 597.9h2V625.9h-2zM654 593.2h2V638.0h-2zM656 582.6h2V638.2h-2zM658 599.7h2V629.6h-2zM660 594.2h2V640.9h-2zM662 597.0h2V635.1h-2zM664 611.4h2V637.7h-2zM666 604.1h2V634.2h-2zM668 597.0h2V640.2h-2zM670 611.9h2V632.0h-2zM672 597.0h2V629.5h-2zM674 605.9h2V627.7h-2zM676 587.1h2V621.0h-2zM678 601.0h2V632.3h-2zM680 611.0h2V635.8h-2zM682 605.8h2V628.2h-2zM684 602.8h2V623.5h-2zM686 574.9h2V622.1h-2zM688 583.4h2V612.6h-2zM690 562.6h2V604.7h-2zM692 533.7h2V585.1h-2zM694 520.6h2V562.2h-2zM696 485.7h2V526.0h-2zM698 465.1h2V509.7h-2zM700 404.1h2V469.4h-2zM702 364.2h2V406.1h-2zM704 330.6h2V366.2h-2zM706 313.3h2V337.7h-2zM708 303.2h2V329.6h-2zM710 325.8h2V348.1h-2zM712 344.4h2V393.4h-2zM714 391.4h2V438.7h-2zM716 423.5h2V469.6h-2zM718 467.6h2V524.7h-2zM720 498.9h2V555.0h-2zM722 553.0h2V578.0h-2zM724 554.6h2V591.2h-2zM726 559.8h2V606.7h-2zM728 575.6h2V616.4h-2zM730 596.1h2V631.5h-2zM732 577.0h2V625.6h-2zM734 572.8h2V617.2h-2zM736 584.7h2V616.7h-2zM738 570.5h2V615.3h-2zM740 576.5h2V622.3h-2zM742 585.7h2V612.3h-2zM744 545.7h2V619.0h-2zM746 576.6h2V618.1h-2zM748 569.5h2V621.8h-2zM750 587.8h2V614.0h-2zM752 582.2h2V615.8h-2zM754 580.9h2V629.6h-2zM756 580.0h2V626.3h-2zM758 600.0h2V640.0h-2zM760 544.2h2V623.2h-2zM762 584.3h2V632.3h-2zM764 574.7h2V615.5h-2zM766 578.5h2V628.0h-2zM768 597.6h2V636.9h-2zM770 610.2h2V621.8h-2zM772 595.4h2V625.1h-2zM774 596.6h2V629.6h-2zM776 580.6h2V638.0h-2zM778 573.6h2V628.0h-2zM780 570.7h2V629.5h-2zM782 605.9h2V633.6h-2zM784 578.7h2V628.5h-2zM786 586.4h2V624.8h-2zM788 581.3h2V619.8h-2zM790 575.8h2V617.7h-2zM792 554.6h2V603.5h-2zM794 565.6h2V606.5h-2zM796 563.0h2V598.7h-2zM798 564.4h2V590.2h-2zM800 558.8h2V581.2h-2zM802 552.0h2V567.0h-2zM804 546.6h2V566.9h-2zM806 524.0h2V566.8h-2zM808 551.8h2V572.9h-2zM810 558.4h2V577.6h-2zM812 563.7h2V591.2h-2zM814 575.9h2V591.1h-2zM816 585.0h2V609.3h-2zM818 581.0h2V613.1h-2zM820 586.7h2V624.5h-2zM822 595.0h2V633.0h-2zM824 613.0h2V645.7h-2zM826 615.5h2V649.4h-2zM828 618.5h2V644.2h-2zM830 629.8h2V654.4h-2zM832 635.0h2V657.2h-2zM834 629.4h2V652.4h-2zM836 624.8h2V657.5h-2zM838 619.1h2V645.5h-2zM840 629.8h2V643.2h-2zM842 626.7h2V656.1h-2zM844 617.0h2V655.6h-2zM846 606.0h2V658.4h-2zM848 629.7h2V646.7h-2zM850 621.7h2V652.9h-2zM852 621.3h2V652.1h-2zM854 635.2h2V660.0h-2zM856 642.8h2V657.2h-2zM858 634.4h2V661.2h-2zM860 637.2h2V659.6h-2zM862 632.1h2V654.6h-2zM864 624.8h2V655.5h-2zM866 641.8h2V660.0h-2zM868 617.8h2V654.7h-2zM870 637.1h2V663.9h-2zM872 651.5h2V665.8h-2zM874 622.5h2V664.9h-2zM876 620.2h2V663.9h-2zM878 641.4h2V665.7h-2zM880 622.3h2V665.9h-2zM882 643.0h2V668.6h-2zM884 650.6h2V669.1h-2zM886 645.7h2V664.9h-2zM888 643.7h2V666.9h-2zM890 636.8h2V655.5h-2zM892 627.8h2V655.1h-2zM894 644.4h2V666.8h-2zM896 645.6h2V661.0h-2zM898 650.9h2V665.1h-2zM900 644.2h2V659.5h-2zM902 653.4h2V669.4h-2zM904 644.0h2V665.8h-2zM906 640.0h2V664.7h-2zM908 643.2h2V663.7h-2zM910 642.5h2V660.4h-2zM912 645.3h2V665.4h-2zM914 648.0h2V667.7h-2zM916 645.9h2V652.3h-2zM918 649.5h2V662.2h-2zM920 635.4h2V657.6h-2zM922 634.9h2V662.5h-2zM924 632.3h2V657.1h-2zM926 630.8h2V661.5h-2zM928 632.0h2V652.5h-2zM930 624.7h2V649.3h-2zM932 630.5h2V648.6h-2zM934 636.8h2V659.1h-2zM936 644.4h2V656.7h-2zM938 636.2h2V658.1h-2zM940 639.0h2V652.5h-2zM942 628.7h2V664.4h-2zM944 647.9h2V664.0h-2zM946 637.9h2V658.5h-2zM948 633.7h2V666.1h-2zM950 640.4h2V666.9h-2zM952 645.1h2V664.6h-2zM954 645.3h2V668.3h-2zM956 645.1h2V663.5h-2zM958 645.2h2V666.9h-2zM960 635.0h2V667.1h-2zM962 642.2h2V673.2h-2zM964 636.2h2V664.4h-2zM966 640.1h2V669.8h-2zM968 653.7h2V669.5h-2zM970 654.6h2V668.4h-2zM972 651.8h2V671.5h-2zM974 642.9h2V666.9h-2zM976 640.0h2V664.6h-2zM978 646.5h2V668.1h-2zM980 629.1h2V662.6h-2zM982 636.7h2V663.1h-2zM984 636.7h2V657.5h-2zM986 642.4h2V661.8h-2zM988 651.2h2V663.2h-2zM990 634.1h2V663.7h-2zM992 639.9h2V662.1h-2zM994 637.5h2V662.8h-2zM996 631.0h2V665.5h-2zM998 621.7h2V661.5h-2zM1000 638.7h2V654.5h-2zM1002 633.1h2V658.3h-2zM1004 637.9h2V656.8h-2zM1006 632.6h2V659.4h-2zM1008 632.0h2V659.3h-2zM1010 635.9h2V651.2h-2zM1012 631.2h2V654.3h-2zM1014 638.2h2V659.2h-2zM1016 634.1h2V653.6h-2zM1018 625.1h2V655.9h-2zM1020 647.4h2V659.6h-2zM1022 644.2h2V658.3h-2zM1024 645.4h2V663.6h-2zM1026 653.3h2V666.7h-2zM1028 655.2h2V662.4h-2zM1030 652.7h2V665.8h-2zM1032 647.8h2V667.4h-2zM1034 647.9h2V666.5h-2zM1036 646.0h2V671.3h-2zM1038 652.1h2V665.6h-2zM1040 650.6h2V669.9h-2zM1042 631.8h2V670.3h-2zM1044 633.0h2V661.3h-2zM1046 654.8h2V670.4h-2zM1048 649.0h2V670.1h-2zM1050 633.0h2V665.3h-2zM1052 647.5h2V666.9h-2zM1054 634.5h2V667.5h-2zM1056 645.3h2V665.8h-2zM1058 650.1h2V669.5h-2zM1060 654.0h2V668.1h-2zM1062 652.9h2V674.0h-2zM1064 648.5h2V666.2h-2zM1066 649.9h2V670.6h-2zM1068 644.4h2V671.3h-2zM1070 653.9h2V670.5h-2zM1072 629.1h2V664.8h-2zM1074 650.2h2V670.6h-2zM1076 652.5h2V665.8h-2zM1078 651.3h2V667.3h-2zM1080 649.5h2V666.4h-2zM1082 644.9h2V666.0h-2zM1084 643.0h2V660.8h-2zM1086 643.4h2V660.0h-2zM1088 645.7h2V663.6h-2zM1090 636.3h2V661.5h-2zM1092 651.1h2V662.3h-2zM1094 645.2h2V658.9h-2zM1096 645.5h2V667.0h-2zM1098 626.1h2V663.8h-2zM1100 631.8h2V665.6h-2zM1102 643.7h2V661.5h-2zM1104 629.5h2V660.5h-2zM1106 632.5h2V650.0h-2zM1108 633.3h2V646.6h-2zM1110 616.4h2V638.1h-2zM1112 602.6h2V626.2h-2zM1114 593.8h2V609.2h-2zM1116 581.8h2V599.7h-2zM1118 558.0h2V588.5h-2zM1120 556.2h2V584.2h-2zM1122 567.1h2V589.3h-2zM1124 581.5h2V600.5h-2zM1126 568.5h2V601.6h-2zM1128 580.5h2V612.1h-2zM1130 609.2h2V624.9h-2zM1132 604.4h2V632.6h-2zM1134 619.5h2V637.2h-2zM1136 613.9h2V649.8h-2zM1138 634.1h2V661.3h-2zM1140 642.7h2V660.9h-2zM1142 643.8h2V659.0h-2zM1144 638.9h2V661.4h-2zM1146 643.3h2V665.1h-2zM1148 628.5h2V661.0h-2zM1150 642.0h2V664.0h-2zM1152 647.9h2V669.7h-2zM1154 640.1h2V661.1h-2zM1156 639.7h2V666.3h-2zM1158 644.1h2V666.8h-2zM1160 647.1h2V663.6h-2zM1162 634.9h2V669.0h-2zM1164 636.5h2V668.1h-2zM1166 633.4h2V659.7h-2zM1168 630.1h2V670.3h-2zM1170 642.0h2V657.9h-2zM1172 641.5h2V667.2h-2zM1174 649.3h2V666.9h-2zM1176 646.4h2V664.4h-2zM1178 642.1h2V660.4h-2zM1180 644.5h2V672.3h-2zM1182 628.6h2V668.5h-2zM1184 646.0h2V663.0h-2zM1186 653.3h2V667.3h-2zM1188 635.3h2V656.4h-2zM1190 636.9h2V674.5h-2zM1192 651.2h2V674.0h-2zM1194 649.8h2V669.8h-2zM1196 637.4h2V668.3h-2zM1198 637.2h2V665.8h-2zM1200 652.3h2V667.6h-2zM1202 643.5h2V672.2h-2zM1204 647.3h2V665.1h-2zM1206 637.4h2V665.1h-2zM1208 646.1h2V663.7h-2zM1210 638.3h2V665.1h-2zM1212 651.0h2V668.7h-2zM1214 638.1h2V667.8h-2zM1216 643.8h2V662.7h-2zM1218 636.1h2V659.2h-2zM1220 623.7h2V660.5h-2zM1222 636.4h2V658.4h-2zM1224 632.8h2V655.8h-2zM1226 631.2h2V658.5h-2zM1228 643.2h2V657.2h-2zM1230 638.0h2V664.1h-2zM1232 638.8h2V660.1h-2zM1234 648.1h2V663.1h-2zM1236 643.8h2V663.5h-2zM1238 635.9h2V666.4h-2zM1240 654.2h2V666.6h-2zM1242 631.3h2V666.4h-2zM1244 637.6h2V659.2h-2zM1246 640.7h2V667.9h-2zM1248 639.2h2V655.4h-2zM1250 640.1h2V668.6h-2zM1252 635.2h2V668.1h-2zM1254 635.3h2V668.4h-2zM1256 643.2h2V663.4h-2zM1258 644.5h2V667.3h-2zM1260 651.1h2V669.1h-2zM1262 647.3h2V664.2h-2zM1264 648.4h2V664.8h-2zM1266 647.3h2V668.5h-2zM1268 637.6h2V665.4h-2zM1270 655.9h2V665.3h-2zM1272 637.2h2V670.0h-2zM1274 640.4h2V665.4h-2zM1276 647.9h2V664.6h-2zM1278 644.3h2V663.7h-2zM1280 650.4h2V666.5h-2zM1282 651.6h2V668.9h-2zM1284 648.9h2V663.4h-2zM1286 646.6h2V662.8h-2zM1288 637.5h2V667.2h-2zM1290 643.7h2V660.9h-2zM1292 641.2h2V667.6h-2zM1294 642.2h2V662.6h-2zM1296 652.5h2V666.4h-2zM1298 636.3h2V660.1h-2zM1300 635.6h2V664.2h-2zM1302 637.8h2V659.1h-2zM1304 637.6h2V660.0h-2zM1306 632.0h2V650.6h-2zM1308 642.6h2V653.7h-2zM1310 631.1h2V647.2h-2zM1312 623.1h2V637.4h-2zM1314 600.5h2V632.4h-2zM1316 604.0h2V625.8h-2zM1318 610.0h2V624.6h-2zM1320 596.7h2V625.6h-2zM1322 602.5h2V632.6h-2zM1324 619.9h2V634.1h-2zM1326 608.3h2V639.8h-2zM1328 622.6h2V644.3h-2zM1330 637.7h2V650.2h-2zM1332 640.0h2V658.8h-2zM1334 636.9h2V658.1h-2zM1336 637.6h2V662.4h-2zM1338 642.6h2V664.8h-2zM1340 645.5h2V667.7h-2zM1342 636.7h2V668.1h-2zM1344 644.4h2V668.3h-2zM1346 646.3h2V658.8h-2zM1348 647.9h2V659.5h-2zM1350 648.5h2V668.0h-2zM1352 648.5h2V664.6h-2zM1354 648.5h2V664.3h-2zM1356 642.1h2V655.8h-2zM1358 646.6h2V663.2h-2zM1360 645.0h2V662.4h-2zM1362 634.9h2V666.1h-2zM1364 659.2h2V669.7h-2zM1366 649.8h2V667.2h-2zM1368 647.9h2V663.0h-2zM1370 648.0h2V667.7h-2zM1372 648.8h2V668.9h-2zM1374 656.1h2V669.4h-2zM1376 641.6h2V669.3h-2zM1378 648.7h2V663.2h-2zM1380 653.3h2V668.0h-2zM1382 649.2h2V664.6h-2zM1384 643.4h2V667.9h-2zM1386 652.0h2V666.2h-2zM1388 656.2h2V669.7h-2zM1390 646.6h2V666.9h-2zM1392 646.4h2V668.8h-2zM1394 646.8h2V664.9h-2zM1396 654.9h2V667.0h-2zM1398 652.3h2V667.8h-2zM1400 643.5h2V671.5h-2zM1402 639.9h2V670.4h-2zM1404 642.5h2V668.5h-2zM1406 652.6h2V667.5h-2zM1408 653.8h2V667.3h-2zM1410 640.4h2V668.0h-2zM1412 652.3h2V664.6h-2zM1414 662.6h2V670.1h-2zM1416 661.6h2V671.4h-2zM1418 648.6h2V665.5h-2zM1420 646.4h2V668.5h-2zM1422 650.8h2V672.1h-2zM1424 656.4h2V666.6h-2zM1426 641.5h2V669.3h-2zM1428 652.5h2V671.3h-2zM1430 656.3h2V661.9h-2zM1432 647.0h2V666.2h-2zM1434 642.1h2V670.3h-2zM1436 657.1h2V669.8h-2zM1438 647.0h2V665.6h-2zM1440 652.4h2V669.9h-2zM1442 659.2h2V670.5h-2zM1444 647.8h2V669.9h-2zM1446 650.3h2V671.4h-2zM1448 653.6h2V668.7h-2zM1450 661.1h2V666.7h-2zM1452 653.6h2V669.8h-2zM1454 654.6h2V672.6h-2zM1456 649.1h2V668.2h-2zM1458 658.1h2V669.6h-2zM1460 656.7h2V669.9h-2zM1462 658.6h2V671.0h-2zM1464 650.1h2V666.5h-2zM1466 658.6h2V673.5h-2zM1468 650.6h2V672.1h-2zM1470 645.2h2V670.7h-2zM1472 644.2h2V669.3h-2zM1474 658.1h2V669.4h-2zM1476 656.9h2V670.0h-2zM1478 655.4h2V670.6h-2zM1480 656.8h2V668.2h-2zM1482 650.9h2V668.9h-2zM1484 658.1h2V667.3h-2zM1486 659.1h2V670.6h-2zM1488 656.4h2V669.1h-2zM1490 652.0h2V668.5h-2zM1492 663.2h2V672.3h-2zM1494 661.4h2V670.7h-2zM1496 660.4h2V672.7h-2zM1498 661.1h2V671.2h-2zM1500 657.1h2V672.1h-2zM1502 661.6h2V674.4h-2zM1504 660.1h2V672.6h-2zM1506 657.0h2V670.1h-2zM1508 651.9h2V665.4h-2zM1510 657.4h2V671.8h-2zM1512 658.9h2V669.3h-2zM1514 656.2h2V672.1h-2zM1516 656.6h2V674.2h-2zM1518 662.1h2V669.6h-2zM1520 648.5h2V674.5h-2zM1522 661.8h2V672.3h-2zM1524 663.7h2V671.3h-2zM1526 653.0h2V674.7h-2zM1528 649.6h2V670.1h-2zM1530 663.5h2V675.3h-2zM1532 658.0h2V673.1h-2zM1534 660.6h2V676.3h-2zM1536 659.9h2V674.3h-2zM1538 655.3h2V671.0h-2zM1540 657.6h2V674.8h-2zM1542 667.5h2V674.6h-2zM1544 658.9h2V675.3h-2zM1546 654.4h2V669.6h-2zM1548 655.8h2V671.2h-2zM1550 653.7h2V675.7h-2zM1552 651.8h2V662.9h-2zM1554 659.4h2V676.0h-2zM1556 654.4h2V668.6h-2zM1558 663.0h2V673.7h-2zM1560 656.5h2V671.6h-2zM1562 656.5h2V669.7h-2zM1564 656.5h2V674.3h-2zM1566 660.4h2V677.2h-2zM1568 661.6h2V672.4h-2zM1570 661.1h2V675.0h-2zM1572 663.1h2V672.5h-2zM1574 654.1h2V672.1h-2zM1576 662.5h2V677.6h-2zM1578 660.4h2V678.3h-2zM1580 664.9h2V677.3h-2zM1582 656.2h2V676.9h-2zM1584 647.8h2V675.8h-2zM1586 656.2h2V675.1h-2zM1588 650.3h2V670.3h-2zM1590 646.1h2V674.8h-2zM1592 657.4h2V672.0h-2zM1594 661.5h2V674.9h-2zM1596 645.0h2V673.4h-2zM1598 656.8h2V676.6h-2zM1600 659.5h2V669.6h-2zM1602 655.6h2V671.1h-2zM1604 658.8h2V673.0h-2zM1606 657.5h2V670.9h-2zM1608 658.8h2V672.7h-2zM1610 652.7h2V672.3h-2zM1612 646.0h2V672.7h-2zM1614 658.6h2V666.1h-2zM1616 643.6h2V672.7h-2zM1618 642.1h2V673.8h-2zM1620 654.0h2V671.7h-2zM1622 657.3h2V670.3h-2zM1624 650.8h2V672.5h-2zM1626 652.7h2V667.9h-2zM1628 660.1h2V671.8h-2zM1630 662.8h2V669.4h-2zM1632 657.3h2V670.9h-2zM1634 650.0h2V672.8h-2zM1636 659.1h2V664.3h-2zM1638 653.3h2V666.2h-2zM1640 654.4h2V669.1h-2zM1642 662.5h2V670.7h-2zM1644 651.3h2V672.7h-2zM1646 641.8h2V674.0h-2zM1648 656.5h2V671.6h-2zM1650 641.0h2V672.2h-2zM1652 659.8h2V674.8h-2zM1654 652.4h2V672.2h-2zM1656 646.4h2V665.4h-2zM1658 645.3h2V670.5h-2zM1660 649.3h2V676.4h-2zM1662 655.2h2V670.9h-2zM1664 653.4h2V670.8h-2zM1666 657.5h2V670.4h-2zM1668 658.2h2V671.9h-2zM1670 652.4h2V674.9h-2zM1672 655.4h2V671.0h-2zM1674 657.9h2V672.1h-2zM1676 654.9h2V673.8h-2zM1678 658.1h2V672.3h-2zM1680 648.5h2V672.3h-2zM1682 650.3h2V672.2h-2zM1684 652.2h2V674.7h-2zM1686 649.7h2V670.6h-2zM1688 659.6h2V673.1h-2zM1690 650.4h2V674.5h-2zM1692 649.8h2V672.0h-2zM1694 641.1h2V672.1h-2zM1696 641.1h2V673.3h-2zM1698 641.1h2V677.8h-2zM1700 662.2h2V676.5h-2zM1702 653.5h2V675.3h-2zM1704 652.6h2V675.8h-2zM1706 658.3h2V674.7h-2zM1708 662.6h2V674.3h-2zM1710 657.1h2V673.4h-2zM1712 653.2h2V662.7h-2zM1714 656.0h2V674.8h-2zM1716 651.5h2V672.0h-2zM1718 651.9h2V673.2h-2zM1720 647.8h2V664.1h-2zM1722 662.1h2V671.6h-2zM1724 660.3h2V674.3h-2zM1726 650.0h2V672.3h-2zM1728 649.2h2V673.9h-2zM1730 647.8h2V664.9h-2zM1732 639.4h2V668.5h-2zM1734 643.7h2V671.8h-2zM1736 658.6h2V673.1h-2zM1738 659.1h2V670.4h-2zM1740 657.8h2V669.4h-2zM1742 653.7h2V670.7h-2zM1744 652.4h2V669.9h-2zM1746 659.5h2V672.8h-2zM1748 648.7h2V668.6h-2zM1750 648.5h2V663.7h-2zM1752 647.6h2V671.4h-2zM1754 662.0h2V675.0h-2zM1756 659.0h2V669.2h-2zM1758 653.3h2V671.4h-2zM1760 656.1h2V670.1h-2zM1762 657.9h2V669.1h-2zM1764 657.8h2V675.7h-2zM1766 649.1h2V668.2h-2zM1768 647.4h2V667.3h-2zM1770 657.2h2V670.8h-2zM1772 658.2h2V671.8h-2zM1774 639.1h2V671.2h-2zM1776 656.0h2V668.9h-2zM1778 656.6h2V672.7h-2zM1780 652.1h2V674.0h-2zM1782 654.8h2V669.2h-2zM1784 654.6h2V671.1h-2zM1786 660.5h2V673.8h-2zM1788 656.5h2V665.8h-2zM1790 648.4h2V674.7h-2zM1792 644.0h2V667.1h-2zM1794 656.3h2V670.5h-2zM1796 663.2h2V671.1h-2zM1798 650.8h2V672.9h-2zM1800 659.6h2V669.7h-2zM1802 659.7h2V672.2h-2zM1804 648.1h2V672.5h-2zM1806 642.3h2V667.2h-2zM1808 658.2h2V671.1h-2zM1810 655.9h2V670.6h-2zM1812 654.6h2V671.4h-2zM1814 655.6h2V674.3h-2zM1816 656.1h2V672.0h-2zM1818 662.4h2V674.8h-2zM1820 658.5h2V671.8h-2zM1822 662.5h2V670.8h-2zM1824 662.5h2V670.8h-2zM1826 659.0h2V671.2h-2zM1828 656.0h2V671.8h-2zM1830 654.7h2V670.4h-2zM1832 662.2h2V672.5h-2zM1834 653.6h2V672.1h-2zM1836 659.5h2V667.9h-2zM1838 652.8h2V665.5h-2zM1840 646.4h2V668.0h-2zM1842 654.8h2V667.8h-2zM1844 653.9h2V669.1h-2zM1846 659.1h2V671.2h-2zM1848 657.6h2V668.3h-2zM1850 645.3h2V673.2h-2zM1852 650.5h2V674.4h-2zM1854 657.4h2V671.0h-2zM1856 647.9h2V673.1h-2zM1858 651.6h2V667.3h-2zM1860 663.2h2V670.8h-2zM1862 661.8h2V672.7h-2zM1864 658.1h2V669.3h-2zM1866 646.6h2V673.2h-2zM1868 660.0h2V669.3h-2zM1870 661.2h2V670.4h-2zM1872 649.3h2V670.7h-2zM1874 651.0h2V669.1h-2zM1876 659.3h2V666.6h-2zM1878 661.7h2V669.0h-2zM1880 660.9h2V667.1h-2zM1882 664.9h2V674.6h-2zM1884 659.5h2V674.0h-2zM1886 654.2h2V667.3h-2zM1888 658.8h2V673.6h-2zM1890 659.8h2V673.8h-2zM1892 654.4h2V671.4h-2zM1894 657.7h2V669.2h-2zM1896 658.2h2V671.2h-2zM1898 656.6h2V671.9h-2zM1900 659.1h2V667.1h-2zM1902 659.6h2V672.5h-2zM1904 656.3h2V674.3h-2zM1906 662.4h2V672.9h-2zM1908 663.9h2V673.3h-2zM1910 654.9h2V673.5h-2zM1912 654.6h2V672.6h-2zM1914 658.1h2V671.3h-2zM1916 654.2h2V673.5h-2zM1918 657.1h2V673.8h-2zM1920 655.3h2V674.3h-2zM1922 663.8h2V674.7h-2zM1924 658.9h2V671.1h-2zM1926 660.0h2V668.5h-2zM1928 661.0h2V673.2h-2zM1930 659.8h2V670.2h-2zM1932 662.3h2V673.5h-2zM1934 658.8h2V675.0h-2zM1936 654.0h2V667.7h-2zM1938 653.3h2V670.2h-2z" fill="#00f"/></g>
<g font-family="'Liberation Sans', Arial, sans-serif" font-weight="bold" font-size="86" fill="#000" style="font-kerning:none">
<g transform="translate(288.6,1356.5)"><g transform="translate(-47.84,0) scale(1,1.04)"><text>10</text><g fill="#fff"><rect x="4.2" y="-9.5" width="15.9" height="10.3"/><rect x="31.9" y="-9.5" width="14.8" height="10.3"/></g></g></g><g transform="translate(494.9,1356.5)"><g transform="translate(-47.84,0) scale(1,1.04)"><text>20</text></g></g><g transform="translate(701.3,1356.5)"><g transform="translate(-47.84,0) scale(1,1.04)"><text>30</text></g></g><g transform="translate(907.7,1356.5)"><g transform="translate(-47.84,0) scale(1,1.04)"><text>40</text></g></g><g transform="translate(1114.0,1356.5)"><g transform="translate(-47.84,0) scale(1,1.04)"><text>50</text></g></g><g transform="translate(1320.4,1356.5)"><g transform="translate(-47.84,0) scale(1,1.04)"><text>60</text></g></g><g transform="translate(1526.8,1356.5)"><g transform="translate(-47.84,0) scale(1,1.04)"><text>70</text></g></g><g transform="translate(1733.1,1356.5)"><g transform="translate(-47.84,0) scale(1,1.04)"><text>80</text></g></g><g transform="translate(1939.5,1356.5)"><g transform="translate(-47.84,0) scale(1,1.04)"><text>90</text></g></g><g transform="translate(555.5,410.6) rotate(-90)"><g transform="translate(-100.38,0)"><text>(</text></g><g transform="translate(-71.76,0) scale(1,1.04)"><text>211</text><g fill="#fff"><rect x="52.0" y="-9.5" width="15.9" height="10.3"/><rect x="79.7" y="-9.5" width="14.8" height="10.3"/><rect x="99.9" y="-9.5" width="15.9" height="10.3"/><rect x="127.5" y="-9.5" width="14.8" height="10.3"/></g></g><g transform="translate(71.74,0)"><text>)</text></g></g><g transform="translate(736.0,189.0) rotate(-90)"><g transform="translate(-100.38,0)"><text>(</text></g><g transform="translate(-71.76,0) scale(1,1.04)"><text>222</text></g><g transform="translate(71.74,0)"><text>)</text></g></g><g transform="translate(835.8,405.0) rotate(-90)"><g transform="translate(-100.38,0)"><text>(</text></g><g transform="translate(-71.76,0) scale(1,1.04)"><text>400</text></g><g transform="translate(71.74,0)"><text>)</text></g></g><g transform="translate(1152.6,435.0) rotate(-90)"><g transform="translate(-100.38,0)"><text>(</text></g><g transform="translate(-71.76,0) scale(1,1.04)"><text>440</text></g><g transform="translate(71.74,0)"><text>)</text></g></g><g transform="translate(1347.8,476.0) rotate(-90)"><g transform="translate(-100.38,0)"><text>(</text></g><g transform="translate(-71.76,0) scale(1,1.04)"><text>662</text></g><g transform="translate(71.74,0)"><text>)</text></g></g><g transform="translate(1927.0,628.4)"><g transform="translate(-296.39,0) scale(1,1.04)"><text>487</text></g><g transform="translate(-129.02,0)"><text>nm</text></g></g><g transform="translate(1927.0,880.2)"><g transform="translate(-296.39,0) scale(1,1.04)"><text>191</text><g fill="#fff"><rect x="4.2" y="-9.5" width="15.9" height="10.3"/><rect x="31.9" y="-9.5" width="14.8" height="10.3"/><rect x="99.9" y="-9.5" width="15.9" height="10.3"/><rect x="127.5" y="-9.5" width="14.8" height="10.3"/></g></g><g transform="translate(-129.02,0)"><text>nm</text></g></g><g transform="translate(1931.0,1161.0)"><g transform="translate(-296.39,0) scale(1,1.04)"><text>64.3</text></g><g transform="translate(-129.02,0)"><text>nm</text></g></g><g transform="translate(1060.9,1452.4)"><g transform="translate(-243.69,0) scale(1,1.04)"><text>2</text></g><g transform="translate(-195.86,0)"><text>theta(deg</text></g><g transform="translate(191.14,0) scale(1,1.04)"><text>.</text></g><g transform="translate(215.03,0)"><text>)</text></g></g><g transform="translate(85.8,699.3) rotate(-90)"><g transform="translate(-279.52,0)"><text>Intensity(a</text></g><g transform="translate(150.55,0) scale(1,1.04)"><text>.</text></g><g transform="translate(174.45,0)"><text>u</text></g><g transform="translate(226.98,0) scale(1,1.04)"><text>.</text></g><g transform="translate(250.87,0)"><text>)</text></g></g>
</g>
</svg>
</body></html>
